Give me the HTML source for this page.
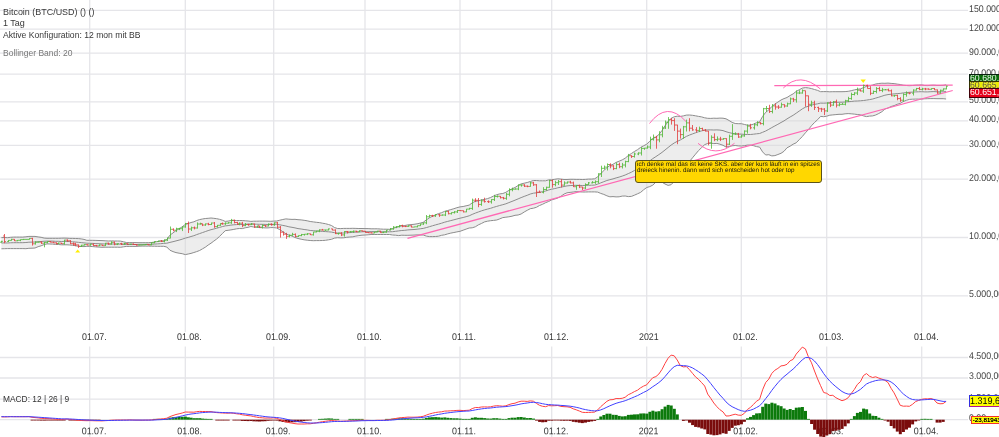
<!DOCTYPE html>
<html><head><meta charset="utf-8"><title>Chart</title>
<style>
html,body{margin:0;padding:0;background:#fff;}
#c{will-change:transform;position:relative;width:999px;height:437px;overflow:hidden;background:#fff;font-family:"Liberation Sans",sans-serif;}
#c svg{position:absolute;left:0;top:0;filter:blur(0.3px);}
.t{position:absolute;left:3px;font-size:9px;line-height:11px;color:#383838;white-space:nowrap;}
.ax{position:absolute;left:968.9px;font-size:9.75px;line-height:12px;color:#444;white-space:nowrap;transform:scale(0.903,1) rotate(0.03deg);transform-origin:0 9.4px;}
.dt{position:absolute;font-size:9.75px;line-height:12px;color:#333;white-space:nowrap;transform:scale(0.91,1) rotate(0.03deg);transform-origin:0 9.4px;}
.bx{position:absolute;left:969px;width:40px;white-space:nowrap;box-sizing:border-box;font-size:9.2px;line-height:9.4px;padding-left:0.3px;overflow:hidden;}
.bx span{position:relative;display:inline-block;transform:scaleX(0.95) rotate(0.03deg);transform-origin:0 0;}
#note{position:absolute;left:635px;top:160px;width:187px;height:23px;box-sizing:border-box;background:#ffd700;border:1px solid #5c5418;border-radius:3px;font-size:6px;line-height:6.3px;color:#111;padding:1px 0 0 1px;white-space:nowrap;}
.nt{position:absolute;left:635.0px;padding:0 2px;font-size:6.32px;line-height:7px;color:#111;white-space:nowrap;transform:rotate(0.03deg);transform-origin:2px 5px;}
</style></head><body>
<div id="c">
<svg width="999" height="437" viewBox="0 0 999 437">
<line x1="0" y1="10.3" x2="968" y2="10.3" stroke="#e5e5e9" stroke-width="1.3"/>
<line x1="0" y1="29.2" x2="968" y2="29.2" stroke="#e5e5e9" stroke-width="1.3"/>
<line x1="0" y1="53.2" x2="968" y2="53.2" stroke="#e5e5e9" stroke-width="1.3"/>
<line x1="0" y1="74.1" x2="968" y2="74.1" stroke="#e5e5e9" stroke-width="1.3"/>
<line x1="0" y1="101.9" x2="968" y2="101.9" stroke="#e5e5e9" stroke-width="1.3"/>
<line x1="0" y1="120.9" x2="968" y2="120.9" stroke="#e5e5e9" stroke-width="1.3"/>
<line x1="0" y1="145.3" x2="968" y2="145.3" stroke="#e5e5e9" stroke-width="1.3"/>
<line x1="0" y1="179.2" x2="968" y2="179.2" stroke="#e5e5e9" stroke-width="1.3"/>
<line x1="0" y1="237.5" x2="968" y2="237.5" stroke="#e5e5e9" stroke-width="1.3"/>
<line x1="0" y1="295.8" x2="968" y2="295.8" stroke="#e5e5e9" stroke-width="1.3"/>
<line x1="89.7" y1="0" x2="89.7" y2="332" stroke="#e5e5e9" stroke-width="1.3"/>
<line x1="89.7" y1="346.4" x2="89.7" y2="437" stroke="#e5e5e9" stroke-width="1.3"/>
<line x1="185.3" y1="0" x2="185.3" y2="332" stroke="#e5e5e9" stroke-width="1.3"/>
<line x1="185.3" y1="346.4" x2="185.3" y2="437" stroke="#e5e5e9" stroke-width="1.3"/>
<line x1="273.7" y1="0" x2="273.7" y2="332" stroke="#e5e5e9" stroke-width="1.3"/>
<line x1="273.7" y1="346.4" x2="273.7" y2="437" stroke="#e5e5e9" stroke-width="1.3"/>
<line x1="365.0" y1="0" x2="365.0" y2="332" stroke="#e5e5e9" stroke-width="1.3"/>
<line x1="365.0" y1="346.4" x2="365.0" y2="437" stroke="#e5e5e9" stroke-width="1.3"/>
<line x1="460.0" y1="0" x2="460.0" y2="332" stroke="#e5e5e9" stroke-width="1.3"/>
<line x1="460.0" y1="346.4" x2="460.0" y2="437" stroke="#e5e5e9" stroke-width="1.3"/>
<line x1="551.7" y1="0" x2="551.7" y2="332" stroke="#e5e5e9" stroke-width="1.3"/>
<line x1="551.7" y1="346.4" x2="551.7" y2="437" stroke="#e5e5e9" stroke-width="1.3"/>
<line x1="646.7" y1="0" x2="646.7" y2="332" stroke="#e5e5e9" stroke-width="1.3"/>
<line x1="646.7" y1="346.4" x2="646.7" y2="437" stroke="#e5e5e9" stroke-width="1.3"/>
<line x1="741.3" y1="0" x2="741.3" y2="332" stroke="#e5e5e9" stroke-width="1.3"/>
<line x1="741.3" y1="346.4" x2="741.3" y2="437" stroke="#e5e5e9" stroke-width="1.3"/>
<line x1="826.7" y1="0" x2="826.7" y2="332" stroke="#e5e5e9" stroke-width="1.3"/>
<line x1="826.7" y1="346.4" x2="826.7" y2="437" stroke="#e5e5e9" stroke-width="1.3"/>
<line x1="921.7" y1="0" x2="921.7" y2="332" stroke="#e5e5e9" stroke-width="1.3"/>
<line x1="921.7" y1="346.4" x2="921.7" y2="437" stroke="#e5e5e9" stroke-width="1.3"/>
<line x1="0" y1="357.5" x2="968" y2="357.5" stroke="#e5e5e9" stroke-width="1.3"/>
<line x1="0" y1="378" x2="968" y2="378" stroke="#e5e5e9" stroke-width="1.3"/>
<line x1="0" y1="399.1" x2="968" y2="399.1" stroke="#e5e5e9" stroke-width="1.3"/>
<line x1="0" y1="419.7" x2="968" y2="419.7" stroke="#e5e5e9" stroke-width="1.3"/>
<polygon points="1.4,237.6 4.5,237.5 7.5,237.7 10.6,237.3 13.6,237.1 16.7,237.1 19.7,237.1 22.8,237.1 25.9,236.8 28.9,236.4 32.0,236.4 35.0,236.4 38.1,236.9 41.1,237.3 44.2,238.1 47.0,238.3 49.9,238.3 52.7,238.3 55.6,238.3 58.4,238.3 61.3,238.2 64.1,238.1 67.0,238.2 69.8,238.4 72.6,238.4 75.5,238.5 78.3,238.6 81.2,238.9 84.0,239.4 86.9,240.3 89.7,240.3 92.8,240.3 95.9,240.4 99.0,240.5 102.0,240.6 105.1,240.8 108.2,241.0 111.3,240.9 114.4,241.0 117.5,241.0 120.5,241.1 123.6,241.8 126.7,242.6 129.8,242.6 132.9,242.6 136.0,242.6 139.0,242.7 142.1,242.7 145.2,242.7 148.3,242.7 151.4,242.5 154.5,242.1 157.5,241.5 160.6,241.2 163.7,240.6 166.8,239.5 169.9,235.2 173.0,232.9 176.0,230.6 179.1,228.8 182.2,226.8 185.3,224.4 188.2,223.5 191.0,222.5 193.9,221.8 196.7,220.5 199.6,219.6 202.4,219.0 205.3,218.5 208.1,218.3 211.0,218.0 213.8,218.3 216.7,218.7 219.5,219.3 222.4,220.2 225.2,221.4 228.1,221.1 230.9,220.5 233.8,220.4 236.6,220.5 239.5,220.5 242.3,220.5 245.2,220.8 248.0,221.0 250.9,221.4 253.7,221.2 256.6,221.2 259.4,221.1 262.3,221.1 265.1,221.1 268.0,221.2 270.8,221.3 273.7,221.1 276.7,221.0 279.8,220.2 282.8,219.5 285.9,218.9 288.9,219.2 292.0,219.4 295.0,219.3 298.0,219.7 301.1,219.9 304.1,220.3 307.2,220.8 310.2,221.5 313.3,221.9 316.3,222.3 319.4,222.6 322.4,223.2 325.4,223.7 328.5,224.5 331.5,225.5 334.6,227.6 337.6,228.5 340.7,228.6 343.7,228.4 346.7,228.4 349.8,228.4 352.8,228.3 355.9,228.4 358.9,228.5 362.0,228.5 365.0,228.6 368.1,228.6 371.1,228.8 374.2,228.8 377.3,228.8 380.3,229.0 383.4,229.2 386.5,229.2 389.5,229.3 392.6,228.5 395.6,227.6 398.7,226.6 401.8,226.0 404.8,225.5 407.9,224.9 411.0,224.6 414.0,224.3 417.1,223.8 420.2,223.1 423.2,222.3 426.3,219.9 429.4,217.8 432.4,216.3 435.5,214.8 438.5,213.6 441.6,212.7 444.7,211.3 447.7,210.5 450.8,209.6 453.9,208.7 456.9,207.7 460.0,206.9 463.1,206.5 466.1,205.8 469.2,205.1 472.2,202.9 475.3,201.3 478.3,200.9 481.4,199.9 484.5,199.4 487.5,198.6 490.6,197.5 493.6,196.0 496.7,194.7 499.7,193.9 502.8,193.5 505.9,192.3 508.9,190.4 512.0,188.8 515.0,187.5 518.1,185.5 521.1,183.9 524.2,183.2 527.2,182.5 530.3,181.5 533.4,180.5 536.4,180.5 539.5,180.8 542.5,180.8 545.6,180.8 548.6,179.9 551.7,179.8 554.8,179.3 557.8,178.8 560.9,179.1 564.0,179.5 567.0,179.5 570.1,179.3 573.2,179.3 576.2,179.4 579.3,179.4 582.3,179.5 585.4,179.4 588.5,179.1 591.5,179.1 594.6,178.8 597.7,176.9 600.7,173.6 603.8,170.7 606.9,167.6 609.9,165.5 613.0,164.3 616.1,162.4 619.1,161.2 622.2,159.9 625.2,158.2 628.3,155.5 631.4,153.5 634.4,151.5 637.5,149.7 640.6,147.4 643.6,145.8 646.7,144.2 649.8,141.2 652.8,138.5 655.9,137.1 658.9,134.5 662.0,130.5 665.0,125.8 668.1,121.5 671.1,118.3 674.2,116.8 677.2,116.2 680.3,116.4 683.3,115.9 686.4,115.1 689.4,115.0 692.5,115.3 695.5,115.8 698.6,116.4 701.6,116.9 704.7,117.8 707.7,118.3 710.8,118.4 713.8,118.2 716.9,118.3 719.9,118.1 723.0,118.2 726.0,118.8 729.1,120.5 732.1,122.4 735.2,123.5 738.2,123.7 741.3,123.7 744.3,124.4 747.4,125.2 750.4,125.1 753.5,124.1 756.5,122.7 759.6,121.9 762.6,116.4 765.7,112.3 768.8,109.9 771.8,106.5 774.9,104.0 777.9,102.1 781.0,100.0 784.0,98.6 787.0,97.5 790.1,95.5 793.1,93.9 796.2,91.4 799.2,89.8 802.3,88.1 805.4,87.6 808.4,87.9 811.5,88.6 814.5,89.5 817.6,90.4 820.6,91.7 823.7,91.6 826.7,91.6 829.8,91.8 832.8,91.7 835.9,91.7 839.0,91.7 842.0,91.7 845.1,91.6 848.2,91.3 851.2,90.7 854.3,89.9 857.3,89.3 860.4,88.9 863.5,87.6 866.5,86.4 869.6,85.8 872.7,85.0 875.7,84.0 878.8,83.5 881.9,83.2 884.9,83.3 888.0,83.1 891.1,83.4 894.1,83.6 897.2,84.1 900.2,84.5 903.3,85.2 906.4,85.5 909.4,85.7 912.5,85.5 915.6,85.2 918.6,85.1 921.7,84.9 924.8,85.5 927.8,85.6 930.9,85.3 933.9,85.2 937.0,85.5 940.0,85.5 943.1,85.4 946.1,84.8 946.1,99.0 943.1,98.7 940.0,98.7 937.0,98.7 933.9,98.6 930.9,98.6 927.8,98.7 924.8,98.8 921.7,99.1 918.6,99.1 915.6,99.1 912.5,99.2 909.4,99.4 906.4,100.3 903.3,101.5 900.2,103.4 897.2,104.3 894.1,105.6 891.1,106.5 888.0,108.0 884.9,109.1 881.9,111.7 878.8,113.5 875.7,115.0 872.7,115.9 869.6,116.1 866.5,116.6 863.5,115.9 860.4,114.8 857.3,114.5 854.3,114.1 851.2,113.8 848.2,113.6 845.1,113.8 842.0,114.3 839.0,114.3 835.9,114.6 832.8,114.9 829.8,115.2 826.7,116.2 823.7,116.7 820.6,116.4 817.6,119.7 814.5,122.5 811.5,125.7 808.4,129.6 805.4,132.8 802.3,136.5 799.2,139.7 796.2,142.8 793.1,144.2 790.1,146.2 787.0,147.8 784.0,151.3 781.0,153.3 777.9,154.5 774.9,155.6 771.8,155.9 768.8,154.7 765.7,155.0 762.6,151.9 759.6,147.1 756.5,146.6 753.5,145.7 750.4,145.1 747.4,145.1 744.3,145.7 741.3,146.0 738.2,145.9 735.2,145.5 732.1,145.8 729.1,146.6 726.0,147.0 723.0,145.3 719.9,144.2 716.9,143.4 713.8,143.6 710.8,143.1 707.7,143.5 704.7,144.6 701.6,147.6 698.6,150.5 695.5,154.2 692.5,157.8 689.4,161.6 686.4,164.9 683.3,168.6 680.3,173.0 677.2,177.6 674.2,181.4 671.1,184.7 668.1,185.4 665.0,184.0 662.0,182.2 658.9,181.1 655.9,182.1 652.8,185.1 649.8,186.6 646.7,187.5 643.6,189.8 640.6,192.4 637.5,193.8 634.4,195.2 631.4,196.4 628.3,196.6 625.2,196.0 622.2,196.1 619.1,196.8 616.1,196.9 613.0,196.6 609.9,196.8 606.9,195.8 603.8,194.4 600.7,193.4 597.7,192.1 594.6,191.9 591.5,191.9 588.5,191.9 585.4,192.0 582.3,192.0 579.3,191.8 576.2,191.6 573.2,192.0 570.1,192.4 567.0,192.8 564.0,194.1 560.9,196.3 557.8,198.0 554.8,199.0 551.7,199.9 548.6,201.5 545.6,202.7 542.5,204.3 539.5,205.5 536.4,207.3 533.4,208.2 530.3,208.7 527.2,210.3 524.2,212.0 521.1,214.0 518.1,215.0 515.0,215.3 512.0,216.2 508.9,216.8 505.9,217.2 502.8,217.6 499.7,218.9 496.7,220.0 493.6,220.4 490.6,220.7 487.5,221.2 484.5,221.9 481.4,223.5 478.3,224.9 475.3,226.8 472.2,227.8 469.2,228.0 466.1,229.1 463.1,230.2 460.0,231.3 456.9,231.9 453.9,232.5 450.8,233.1 447.7,233.9 444.7,234.8 441.6,235.3 438.5,236.2 435.5,236.5 432.4,236.6 429.4,236.6 426.3,236.1 423.2,235.0 420.2,235.0 417.1,234.9 414.0,235.1 411.0,235.2 407.9,235.3 404.8,235.3 401.8,235.2 398.7,235.6 395.6,235.2 392.6,235.0 389.5,234.5 386.5,234.5 383.4,234.5 380.3,234.5 377.3,234.5 374.2,234.5 371.1,234.5 368.1,234.8 365.0,235.0 362.0,235.2 358.9,235.6 355.9,236.1 352.8,236.8 349.8,237.0 346.7,237.3 343.7,237.8 340.7,237.9 337.6,237.7 334.6,238.1 331.5,239.3 328.5,239.8 325.4,240.3 322.4,240.5 319.4,240.6 316.3,240.6 313.3,240.7 310.2,240.5 307.2,240.2 304.1,239.8 301.1,239.2 298.0,238.5 295.0,237.5 292.0,236.1 288.9,235.1 285.9,233.8 282.8,231.7 279.8,229.7 276.7,228.0 273.7,227.6 270.8,227.6 268.0,227.9 265.1,227.9 262.3,227.7 259.4,227.6 256.6,227.2 253.7,227.0 250.9,226.5 248.0,227.3 245.2,227.8 242.3,228.6 239.5,228.5 236.6,228.8 233.8,229.4 230.9,229.9 228.1,230.3 225.2,230.7 222.4,233.6 219.5,236.4 216.7,239.0 213.8,241.1 211.0,243.2 208.1,245.1 205.3,247.2 202.4,248.9 199.6,250.5 196.7,251.6 193.9,252.5 191.0,253.4 188.2,254.0 185.3,254.6 182.2,253.7 179.1,253.2 176.0,252.6 173.0,251.6 169.9,250.2 166.8,247.0 163.7,246.3 160.6,246.3 157.5,246.3 154.5,246.2 151.4,246.2 148.3,246.1 145.2,246.1 142.1,246.1 139.0,246.2 136.0,246.4 132.9,246.4 129.8,246.4 126.7,246.4 123.6,246.8 120.5,247.3 117.5,247.2 114.4,247.2 111.3,247.2 108.2,247.2 105.1,247.2 102.0,247.3 99.0,247.1 95.9,246.9 92.8,246.6 89.7,246.4 86.9,246.3 84.0,246.6 81.2,246.5 78.3,246.3 75.5,245.7 72.6,245.3 69.8,245.0 67.0,244.8 64.1,244.8 61.3,244.8 58.4,244.5 55.6,244.4 52.7,244.1 49.9,244.0 47.0,243.9 44.2,244.5 41.1,245.8 38.1,246.7 35.0,248.0 32.0,248.2 28.9,248.3 25.9,248.7 22.8,248.6 19.7,248.6 16.7,248.6 13.6,248.6 10.6,248.6 7.5,248.6 4.5,248.7 1.4,248.8" fill="#d6d6d6" fill-opacity="0.45" stroke="none"/>
<polyline points="1.4,237.6 4.5,237.5 7.5,237.7 10.6,237.3 13.6,237.1 16.7,237.1 19.7,237.1 22.8,237.1 25.9,236.8 28.9,236.4 32.0,236.4 35.0,236.4 38.1,236.9 41.1,237.3 44.2,238.1 47.0,238.3 49.9,238.3 52.7,238.3 55.6,238.3 58.4,238.3 61.3,238.2 64.1,238.1 67.0,238.2 69.8,238.4 72.6,238.4 75.5,238.5 78.3,238.6 81.2,238.9 84.0,239.4 86.9,240.3 89.7,240.3 92.8,240.3 95.9,240.4 99.0,240.5 102.0,240.6 105.1,240.8 108.2,241.0 111.3,240.9 114.4,241.0 117.5,241.0 120.5,241.1 123.6,241.8 126.7,242.6 129.8,242.6 132.9,242.6 136.0,242.6 139.0,242.7 142.1,242.7 145.2,242.7 148.3,242.7 151.4,242.5 154.5,242.1 157.5,241.5 160.6,241.2 163.7,240.6 166.8,239.5 169.9,235.2 173.0,232.9 176.0,230.6 179.1,228.8 182.2,226.8 185.3,224.4 188.2,223.5 191.0,222.5 193.9,221.8 196.7,220.5 199.6,219.6 202.4,219.0 205.3,218.5 208.1,218.3 211.0,218.0 213.8,218.3 216.7,218.7 219.5,219.3 222.4,220.2 225.2,221.4 228.1,221.1 230.9,220.5 233.8,220.4 236.6,220.5 239.5,220.5 242.3,220.5 245.2,220.8 248.0,221.0 250.9,221.4 253.7,221.2 256.6,221.2 259.4,221.1 262.3,221.1 265.1,221.1 268.0,221.2 270.8,221.3 273.7,221.1 276.7,221.0 279.8,220.2 282.8,219.5 285.9,218.9 288.9,219.2 292.0,219.4 295.0,219.3 298.0,219.7 301.1,219.9 304.1,220.3 307.2,220.8 310.2,221.5 313.3,221.9 316.3,222.3 319.4,222.6 322.4,223.2 325.4,223.7 328.5,224.5 331.5,225.5 334.6,227.6 337.6,228.5 340.7,228.6 343.7,228.4 346.7,228.4 349.8,228.4 352.8,228.3 355.9,228.4 358.9,228.5 362.0,228.5 365.0,228.6 368.1,228.6 371.1,228.8 374.2,228.8 377.3,228.8 380.3,229.0 383.4,229.2 386.5,229.2 389.5,229.3 392.6,228.5 395.6,227.6 398.7,226.6 401.8,226.0 404.8,225.5 407.9,224.9 411.0,224.6 414.0,224.3 417.1,223.8 420.2,223.1 423.2,222.3 426.3,219.9 429.4,217.8 432.4,216.3 435.5,214.8 438.5,213.6 441.6,212.7 444.7,211.3 447.7,210.5 450.8,209.6 453.9,208.7 456.9,207.7 460.0,206.9 463.1,206.5 466.1,205.8 469.2,205.1 472.2,202.9 475.3,201.3 478.3,200.9 481.4,199.9 484.5,199.4 487.5,198.6 490.6,197.5 493.6,196.0 496.7,194.7 499.7,193.9 502.8,193.5 505.9,192.3 508.9,190.4 512.0,188.8 515.0,187.5 518.1,185.5 521.1,183.9 524.2,183.2 527.2,182.5 530.3,181.5 533.4,180.5 536.4,180.5 539.5,180.8 542.5,180.8 545.6,180.8 548.6,179.9 551.7,179.8 554.8,179.3 557.8,178.8 560.9,179.1 564.0,179.5 567.0,179.5 570.1,179.3 573.2,179.3 576.2,179.4 579.3,179.4 582.3,179.5 585.4,179.4 588.5,179.1 591.5,179.1 594.6,178.8 597.7,176.9 600.7,173.6 603.8,170.7 606.9,167.6 609.9,165.5 613.0,164.3 616.1,162.4 619.1,161.2 622.2,159.9 625.2,158.2 628.3,155.5 631.4,153.5 634.4,151.5 637.5,149.7 640.6,147.4 643.6,145.8 646.7,144.2 649.8,141.2 652.8,138.5 655.9,137.1 658.9,134.5 662.0,130.5 665.0,125.8 668.1,121.5 671.1,118.3 674.2,116.8 677.2,116.2 680.3,116.4 683.3,115.9 686.4,115.1 689.4,115.0 692.5,115.3 695.5,115.8 698.6,116.4 701.6,116.9 704.7,117.8 707.7,118.3 710.8,118.4 713.8,118.2 716.9,118.3 719.9,118.1 723.0,118.2 726.0,118.8 729.1,120.5 732.1,122.4 735.2,123.5 738.2,123.7 741.3,123.7 744.3,124.4 747.4,125.2 750.4,125.1 753.5,124.1 756.5,122.7 759.6,121.9 762.6,116.4 765.7,112.3 768.8,109.9 771.8,106.5 774.9,104.0 777.9,102.1 781.0,100.0 784.0,98.6 787.0,97.5 790.1,95.5 793.1,93.9 796.2,91.4 799.2,89.8 802.3,88.1 805.4,87.6 808.4,87.9 811.5,88.6 814.5,89.5 817.6,90.4 820.6,91.7 823.7,91.6 826.7,91.6 829.8,91.8 832.8,91.7 835.9,91.7 839.0,91.7 842.0,91.7 845.1,91.6 848.2,91.3 851.2,90.7 854.3,89.9 857.3,89.3 860.4,88.9 863.5,87.6 866.5,86.4 869.6,85.8 872.7,85.0 875.7,84.0 878.8,83.5 881.9,83.2 884.9,83.3 888.0,83.1 891.1,83.4 894.1,83.6 897.2,84.1 900.2,84.5 903.3,85.2 906.4,85.5 909.4,85.7 912.5,85.5 915.6,85.2 918.6,85.1 921.7,84.9 924.8,85.5 927.8,85.6 930.9,85.3 933.9,85.2 937.0,85.5 940.0,85.5 943.1,85.4 946.1,84.8" fill="none" stroke="#8c8c8c" stroke-width="1"/>
<polyline points="1.4,248.8 4.5,248.7 7.5,248.6 10.6,248.6 13.6,248.6 16.7,248.6 19.7,248.6 22.8,248.6 25.9,248.7 28.9,248.3 32.0,248.2 35.0,248.0 38.1,246.7 41.1,245.8 44.2,244.5 47.0,243.9 49.9,244.0 52.7,244.1 55.6,244.4 58.4,244.5 61.3,244.8 64.1,244.8 67.0,244.8 69.8,245.0 72.6,245.3 75.5,245.7 78.3,246.3 81.2,246.5 84.0,246.6 86.9,246.3 89.7,246.4 92.8,246.6 95.9,246.9 99.0,247.1 102.0,247.3 105.1,247.2 108.2,247.2 111.3,247.2 114.4,247.2 117.5,247.2 120.5,247.3 123.6,246.8 126.7,246.4 129.8,246.4 132.9,246.4 136.0,246.4 139.0,246.2 142.1,246.1 145.2,246.1 148.3,246.1 151.4,246.2 154.5,246.2 157.5,246.3 160.6,246.3 163.7,246.3 166.8,247.0 169.9,250.2 173.0,251.6 176.0,252.6 179.1,253.2 182.2,253.7 185.3,254.6 188.2,254.0 191.0,253.4 193.9,252.5 196.7,251.6 199.6,250.5 202.4,248.9 205.3,247.2 208.1,245.1 211.0,243.2 213.8,241.1 216.7,239.0 219.5,236.4 222.4,233.6 225.2,230.7 228.1,230.3 230.9,229.9 233.8,229.4 236.6,228.8 239.5,228.5 242.3,228.6 245.2,227.8 248.0,227.3 250.9,226.5 253.7,227.0 256.6,227.2 259.4,227.6 262.3,227.7 265.1,227.9 268.0,227.9 270.8,227.6 273.7,227.6 276.7,228.0 279.8,229.7 282.8,231.7 285.9,233.8 288.9,235.1 292.0,236.1 295.0,237.5 298.0,238.5 301.1,239.2 304.1,239.8 307.2,240.2 310.2,240.5 313.3,240.7 316.3,240.6 319.4,240.6 322.4,240.5 325.4,240.3 328.5,239.8 331.5,239.3 334.6,238.1 337.6,237.7 340.7,237.9 343.7,237.8 346.7,237.3 349.8,237.0 352.8,236.8 355.9,236.1 358.9,235.6 362.0,235.2 365.0,235.0 368.1,234.8 371.1,234.5 374.2,234.5 377.3,234.5 380.3,234.5 383.4,234.5 386.5,234.5 389.5,234.5 392.6,235.0 395.6,235.2 398.7,235.6 401.8,235.2 404.8,235.3 407.9,235.3 411.0,235.2 414.0,235.1 417.1,234.9 420.2,235.0 423.2,235.0 426.3,236.1 429.4,236.6 432.4,236.6 435.5,236.5 438.5,236.2 441.6,235.3 444.7,234.8 447.7,233.9 450.8,233.1 453.9,232.5 456.9,231.9 460.0,231.3 463.1,230.2 466.1,229.1 469.2,228.0 472.2,227.8 475.3,226.8 478.3,224.9 481.4,223.5 484.5,221.9 487.5,221.2 490.6,220.7 493.6,220.4 496.7,220.0 499.7,218.9 502.8,217.6 505.9,217.2 508.9,216.8 512.0,216.2 515.0,215.3 518.1,215.0 521.1,214.0 524.2,212.0 527.2,210.3 530.3,208.7 533.4,208.2 536.4,207.3 539.5,205.5 542.5,204.3 545.6,202.7 548.6,201.5 551.7,199.9 554.8,199.0 557.8,198.0 560.9,196.3 564.0,194.1 567.0,192.8 570.1,192.4 573.2,192.0 576.2,191.6 579.3,191.8 582.3,192.0 585.4,192.0 588.5,191.9 591.5,191.9 594.6,191.9 597.7,192.1 600.7,193.4 603.8,194.4 606.9,195.8 609.9,196.8 613.0,196.6 616.1,196.9 619.1,196.8 622.2,196.1 625.2,196.0 628.3,196.6 631.4,196.4 634.4,195.2 637.5,193.8 640.6,192.4 643.6,189.8 646.7,187.5 649.8,186.6 652.8,185.1 655.9,182.1 658.9,181.1 662.0,182.2 665.0,184.0 668.1,185.4 671.1,184.7 674.2,181.4 677.2,177.6 680.3,173.0 683.3,168.6 686.4,164.9 689.4,161.6 692.5,157.8 695.5,154.2 698.6,150.5 701.6,147.6 704.7,144.6 707.7,143.5 710.8,143.1 713.8,143.6 716.9,143.4 719.9,144.2 723.0,145.3 726.0,147.0 729.1,146.6 732.1,145.8 735.2,145.5 738.2,145.9 741.3,146.0 744.3,145.7 747.4,145.1 750.4,145.1 753.5,145.7 756.5,146.6 759.6,147.1 762.6,151.9 765.7,155.0 768.8,154.7 771.8,155.9 774.9,155.6 777.9,154.5 781.0,153.3 784.0,151.3 787.0,147.8 790.1,146.2 793.1,144.2 796.2,142.8 799.2,139.7 802.3,136.5 805.4,132.8 808.4,129.6 811.5,125.7 814.5,122.5 817.6,119.7 820.6,116.4 823.7,116.7 826.7,116.2 829.8,115.2 832.8,114.9 835.9,114.6 839.0,114.3 842.0,114.3 845.1,113.8 848.2,113.6 851.2,113.8 854.3,114.1 857.3,114.5 860.4,114.8 863.5,115.9 866.5,116.6 869.6,116.1 872.7,115.9 875.7,115.0 878.8,113.5 881.9,111.7 884.9,109.1 888.0,108.0 891.1,106.5 894.1,105.6 897.2,104.3 900.2,103.4 903.3,101.5 906.4,100.3 909.4,99.4 912.5,99.2 915.6,99.1 918.6,99.1 921.7,99.1 924.8,98.8 927.8,98.7 930.9,98.6 933.9,98.6 937.0,98.7 940.0,98.7 943.1,98.7 946.1,99.0" fill="none" stroke="#8c8c8c" stroke-width="1"/>
<polyline points="1.4,243.0 4.5,242.9 7.5,243.0 10.6,242.8 13.6,242.7 16.7,242.7 19.7,242.7 22.8,242.7 25.9,242.5 28.9,242.2 32.0,242.1 35.0,242.0 38.1,241.7 41.1,241.5 44.2,241.2 47.0,241.1 49.9,241.1 52.7,241.1 55.6,241.3 58.4,241.3 61.3,241.5 64.1,241.4 67.0,241.4 69.8,241.6 72.6,241.8 75.5,242.0 78.3,242.3 81.2,242.6 84.0,242.9 86.9,243.2 89.7,243.3 92.8,243.4 95.9,243.6 99.0,243.7 102.0,243.9 105.1,244.0 108.2,244.0 111.3,244.0 114.4,244.0 117.5,244.1 120.5,244.1 123.6,244.3 126.7,244.5 129.8,244.5 132.9,244.5 136.0,244.5 139.0,244.4 142.1,244.4 145.2,244.4 148.3,244.4 151.4,244.3 154.5,244.1 157.5,243.9 160.6,243.7 163.7,243.4 166.8,243.2 169.9,242.4 173.0,241.7 176.0,240.9 179.1,240.1 182.2,239.2 185.3,238.1 188.2,237.4 191.0,236.5 193.9,235.7 196.7,234.6 199.6,233.6 202.4,232.6 205.3,231.6 208.1,230.6 211.0,229.7 213.8,229.0 216.7,228.2 219.5,227.4 222.4,226.6 225.2,225.9 228.1,225.6 230.9,225.1 233.8,224.8 236.6,224.6 239.5,224.4 242.3,224.5 245.2,224.2 248.0,224.1 250.9,223.9 253.7,224.1 256.6,224.2 259.4,224.3 262.3,224.3 265.1,224.4 268.0,224.5 270.8,224.4 273.7,224.3 276.7,224.4 279.8,224.8 282.8,225.4 285.9,226.0 288.9,226.8 292.0,227.3 295.0,227.9 298.0,228.6 301.1,229.0 304.1,229.5 307.2,229.9 310.2,230.5 313.3,230.7 316.3,231.0 319.4,231.1 322.4,231.4 325.4,231.6 328.5,231.8 331.5,232.1 334.6,232.7 337.6,233.0 340.7,233.1 343.7,233.0 346.7,232.8 349.8,232.6 352.8,232.4 355.9,232.2 358.9,232.0 362.0,231.8 365.0,231.7 368.1,231.7 371.1,231.6 374.2,231.6 377.3,231.6 380.3,231.7 383.4,231.8 386.5,231.8 389.5,231.8 392.6,231.7 395.6,231.3 398.7,230.9 401.8,230.5 404.8,230.3 407.9,229.9 411.0,229.7 414.0,229.5 417.1,229.2 420.2,228.8 423.2,228.4 426.3,227.6 429.4,226.7 432.4,225.8 435.5,224.9 438.5,224.1 441.6,223.2 444.7,222.2 447.7,221.4 450.8,220.6 453.9,219.8 456.9,219.0 460.0,218.2 463.1,217.5 466.1,216.7 469.2,215.8 472.2,214.4 475.3,213.1 478.3,212.0 481.4,210.9 484.5,209.9 487.5,209.1 490.6,208.3 493.6,207.3 496.7,206.4 499.7,205.5 502.8,204.7 505.9,203.8 508.9,202.6 512.0,201.4 515.0,200.2 518.1,198.9 521.1,197.6 524.2,196.4 527.2,195.3 530.3,194.0 533.4,193.2 536.4,192.8 539.5,192.3 542.5,191.7 545.6,191.0 548.6,190.0 551.7,189.2 554.8,188.6 557.8,187.8 560.9,187.2 564.0,186.5 567.0,185.9 570.1,185.6 573.2,185.4 576.2,185.3 579.3,185.4 582.3,185.5 585.4,185.4 588.5,185.3 591.5,185.2 594.6,185.1 597.7,184.1 600.7,182.9 603.8,181.7 606.9,180.5 609.9,179.7 613.0,178.9 616.1,177.9 619.1,177.1 622.2,176.1 625.2,175.0 628.3,173.6 631.4,172.2 634.4,170.5 637.5,168.9 640.6,166.9 643.6,165.0 646.7,163.1 649.8,160.9 652.8,158.6 655.9,156.6 658.9,154.6 662.0,152.4 665.0,150.0 668.1,147.5 671.1,145.1 674.2,143.0 677.2,141.4 680.3,140.0 683.3,138.2 686.4,136.4 689.4,135.1 692.5,133.9 695.5,132.8 698.6,131.7 701.6,130.9 704.7,130.1 707.7,129.9 710.8,129.9 713.8,130.0 716.9,129.9 719.9,130.1 723.0,130.6 726.0,131.7 729.1,132.6 732.1,133.3 735.2,133.8 738.2,134.1 741.3,134.1 744.3,134.4 747.4,134.5 750.4,134.5 753.5,134.2 756.5,133.8 759.6,133.5 762.6,132.3 765.7,131.0 768.8,129.3 771.8,127.6 774.9,125.9 777.9,124.3 781.0,122.5 784.0,120.9 787.0,118.9 790.1,117.0 793.1,115.3 796.2,113.2 799.2,111.1 802.3,108.9 805.4,107.2 808.4,106.2 811.5,105.1 814.5,104.4 817.6,103.8 820.6,103.1 823.7,103.2 826.7,103.0 829.8,102.7 832.8,102.5 835.9,102.4 839.0,102.2 842.0,102.2 845.1,102.0 848.2,101.7 851.2,101.5 854.3,101.1 857.3,101.0 860.4,100.8 863.5,100.5 866.5,100.1 869.6,99.6 872.7,99.0 875.7,98.1 878.8,97.2 881.9,96.2 884.9,95.2 888.0,94.6 891.1,94.2 894.1,93.9 897.2,93.6 900.2,93.4 903.3,92.9 906.4,92.6 909.4,92.3 912.5,92.1 915.6,91.9 918.6,91.8 921.7,91.7 924.8,91.9 927.8,91.9 930.9,91.7 933.9,91.6 937.0,91.8 940.0,91.8 943.1,91.8 946.1,91.6" fill="none" stroke="#8c8c8c" stroke-width="1"/>
<line x1="407.5" y1="238.3" x2="952.7" y2="90.5" stroke="#ff69b4" stroke-width="1.25"/>
<line x1="774.3" y1="85.5" x2="952.7" y2="85" stroke="#ff69b4" stroke-width="1.25"/>
<path d="M649.5,123.5 Q667,100.5 686,121.5" fill="none" stroke="#ff69b4" stroke-width="1"/>
<path d="M698,143.3 Q715.5,158.5 734.5,143.3" fill="none" stroke="#ff69b4" stroke-width="1"/>
<path d="M783.3,88 Q800,71.3 820.4,89" fill="none" stroke="#ff69b4" stroke-width="1"/>
<path d="M1.5,240.8V242.7M0.0,242.2h1.5M1.5,241.3h1.5M8.5,240.0V242.0M7.0,241.6h1.5M8.5,240.4h1.5M11.5,238.8V240.6M10.0,240.4h1.5M11.5,239.3h1.5M17.5,240.1V241.2M16.0,240.8h1.5M17.5,240.3h1.5M20.5,239.5V241.2M19.0,240.3h1.5M20.5,239.6h1.5M23.5,238.9V239.8M22.0,239.6h1.5M23.5,239.4h1.5M26.5,239.2V239.6M25.0,239.4h1.5M26.5,239.4h1.5M29.5,238.2V239.5M28.0,239.4h1.5M29.5,238.4h1.5M35.5,241.3V244.6M34.0,243.8h1.5M35.5,242.2h1.5M38.5,241.7V242.5M37.0,242.2h1.5M38.5,242.1h1.5M44.5,241.8V247.3M43.0,243.2h1.5M44.5,242.4h1.5M47.5,241.4V243.3M46.0,242.4h1.5M47.5,241.5h1.5M58.5,242.5V244.1M57.0,243.6h1.5M58.5,243.1h1.5M64.5,239.8V244.6M63.0,243.7h1.5M64.5,240.1h1.5M81.5,244.8V247.0M80.0,246.3h1.5M81.5,245.2h1.5M84.5,244.2V245.4M83.0,245.2h1.5M84.5,244.6h1.5M90.5,243.9V245.7M89.0,245.0h1.5M90.5,244.2h1.5M99.5,244.4V246.1M98.0,245.8h1.5M99.5,245.0h1.5M105.5,242.9V246.0M104.0,245.7h1.5M105.5,243.2h1.5M111.5,241.3V244.6M110.0,244.0h1.5M111.5,242.3h1.5M117.5,243.4V245.1M116.0,244.1h1.5M117.5,243.7h1.5M124.5,242.9V244.7M123.0,244.1h1.5M124.5,243.6h1.5M130.5,243.8V244.5M129.0,244.1h1.5M130.5,244.0h1.5M139.5,244.7V245.3M138.0,245.1h1.5M139.5,245.0h1.5M142.5,244.7V245.1M141.0,245.0h1.5M142.5,244.8h1.5M145.5,244.1V245.1M144.0,244.8h1.5M145.5,244.4h1.5M151.5,242.2V245.3M150.0,244.9h1.5M151.5,242.8h1.5M154.5,241.3V243.3M153.0,242.8h1.5M154.5,241.6h1.5M158.5,240.7V241.8M157.0,241.6h1.5M158.5,240.9h1.5M164.5,239.4V242.4M163.0,241.4h1.5M164.5,240.1h1.5M167.5,237.5V241.0M166.0,240.1h1.5M167.5,238.1h1.5M170.5,226.5V238.3M169.0,238.1h1.5M170.5,229.3h1.5M176.5,227.7V232.1M175.0,230.2h1.5M176.5,228.7h1.5M179.5,227.8V230.1M178.0,228.7h1.5M179.5,228.7h1.5M182.5,226.3V231.1M181.0,228.7h1.5M182.5,226.9h1.5M185.5,222.9V227.7M184.0,226.9h1.5M185.5,223.6h1.5M191.5,226.6V231.0M190.0,229.0h1.5M191.5,227.8h1.5M197.5,222.4V228.5M196.0,228.0h1.5M197.5,224.0h1.5M200.5,222.7V224.6M199.0,224.0h1.5M200.5,223.8h1.5M205.5,223.5V225.8M204.0,225.0h1.5M205.5,223.9h1.5M211.5,222.6V225.0M210.0,224.5h1.5M211.5,223.0h1.5M217.5,224.9V227.5M216.0,226.6h1.5M217.5,225.3h1.5M220.5,223.2V225.9M219.0,225.3h1.5M220.5,223.7h1.5M225.5,222.3V224.9M224.0,223.8h1.5M225.5,223.2h1.5M228.5,222.1V223.6M227.0,223.2h1.5M228.5,222.8h1.5M231.5,218.9V223.8M230.0,222.8h1.5M231.5,220.3h1.5M239.5,222.4V225.3M238.0,224.0h1.5M239.5,223.2h1.5M245.5,223.0V226.2M244.0,225.6h1.5M245.5,224.5h1.5M251.5,223.1V225.0M250.0,224.7h1.5M251.5,224.0h1.5M257.5,225.7V227.4M256.0,227.0h1.5M257.5,226.0h1.5M262.5,224.3V228.5M261.0,227.2h1.5M262.5,225.5h1.5M268.5,223.4V226.3M267.0,226.0h1.5M268.5,224.2h1.5M274.5,222.3V225.8M273.0,224.7h1.5M274.5,222.8h1.5M289.5,234.5V237.4M288.0,236.3h1.5M289.5,235.3h1.5M292.5,232.8V235.7M291.0,235.3h1.5M292.5,234.4h1.5M298.5,235.4V237.0M297.0,236.4h1.5M298.5,235.6h1.5M301.5,233.9V236.2M300.0,235.6h1.5M301.5,234.6h1.5M304.5,234.0V235.6M303.0,234.6h1.5M304.5,234.2h1.5M307.5,233.1V235.1M306.0,234.2h1.5M307.5,233.8h1.5M313.5,231.8V235.6M312.0,234.8h1.5M313.5,232.0h1.5M316.5,230.7V232.3M315.0,232.0h1.5M316.5,231.1h1.5M319.5,229.3V232.2M318.0,231.1h1.5M319.5,229.9h1.5M325.5,229.7V230.9M324.0,230.0h1.5M325.5,230.0h1.5M328.5,228.5V230.4M327.0,230.0h1.5M328.5,228.9h1.5M338.5,232.9V234.7M337.0,233.6h1.5M338.5,233.2h1.5M344.5,231.1V236.6M343.0,234.9h1.5M344.5,231.5h1.5M350.5,231.0V232.4M349.0,231.9h1.5M350.5,231.6h1.5M353.5,230.5V232.7M352.0,231.6h1.5M353.5,231.2h1.5M359.5,230.4V232.0M358.0,231.8h1.5M359.5,230.7h1.5M374.5,231.7V233.2M373.0,233.0h1.5M374.5,232.1h1.5M377.5,230.8V232.2M376.0,232.1h1.5M377.5,231.1h1.5M383.5,231.5V233.1M382.0,232.6h1.5M383.5,232.1h1.5M386.5,229.8V232.7M385.0,232.1h1.5M386.5,230.1h1.5M390.5,228.0V230.4M389.0,230.1h1.5M390.5,229.0h1.5M393.5,226.1V229.7M392.0,229.0h1.5M393.5,227.2h1.5M396.5,226.1V228.2M395.0,227.2h1.5M396.5,226.7h1.5M399.5,224.9V227.5M398.0,226.7h1.5M399.5,225.5h1.5M408.5,225.3V226.8M407.0,226.4h1.5M408.5,225.8h1.5M414.5,226.7V227.2M413.0,227.1h1.5M414.5,226.8h1.5M417.5,225.6V227.3M416.0,226.8h1.5M417.5,225.7h1.5M420.5,223.6V226.0M419.0,225.7h1.5M420.5,224.0h1.5M423.5,222.5V224.9M422.0,224.0h1.5M423.5,222.8h1.5M426.5,215.0V224.2M425.0,222.8h1.5M426.5,216.8h1.5M429.5,214.7V217.6M428.0,216.8h1.5M429.5,215.6h1.5M435.5,214.2V216.9M434.0,215.9h1.5M435.5,214.7h1.5M442.5,214.4V215.6M441.0,215.2h1.5M442.5,215.0h1.5M445.5,211.0V216.1M444.0,215.0h1.5M445.5,211.4h1.5M451.5,212.4V214.5M450.0,213.7h1.5M451.5,212.6h1.5M454.5,211.1V213.5M453.0,212.6h1.5M454.5,211.9h1.5M457.5,209.9V213.0M456.0,211.9h1.5M457.5,210.5h1.5M466.5,208.9V212.2M465.0,211.9h1.5M466.5,209.1h1.5M469.5,207.8V209.6M468.0,209.1h1.5M469.5,208.4h1.5M472.5,198.6V209.9M471.0,208.4h1.5M472.5,200.2h1.5M481.5,199.3V205.8M480.0,204.4h1.5M481.5,200.8h1.5M491.5,199.2V203.6M490.0,201.8h1.5M491.5,199.6h1.5M494.5,194.8V201.0M493.0,199.6h1.5M494.5,196.5h1.5M497.5,195.4V197.5M496.0,196.5h1.5M497.5,196.3h1.5M506.5,192.9V199.8M505.0,198.3h1.5M506.5,194.3h1.5M509.5,188.3V196.3M508.0,194.3h1.5M509.5,189.7h1.5M512.5,187.6V191.3M511.0,189.7h1.5M512.5,189.2h1.5M515.5,188.3V189.5M514.0,189.2h1.5M515.5,189.0h1.5M518.5,184.4V190.2M517.0,189.0h1.5M518.5,185.0h1.5M521.5,184.5V186.6M520.0,185.0h1.5M521.5,185.0h1.5M530.5,181.9V186.7M529.0,186.4h1.5M530.5,182.9h1.5M543.5,187.2V193.4M542.0,192.3h1.5M543.5,189.5h1.5M546.5,186.7V190.5M545.0,189.5h1.5M546.5,187.3h1.5M549.5,179.9V187.7M548.0,187.3h1.5M549.5,180.6h1.5M555.5,180.8V186.3M554.0,184.6h1.5M555.5,182.7h1.5M558.5,180.0V185.0M557.0,182.7h1.5M558.5,181.7h1.5M564.5,181.3V185.7M563.0,185.1h1.5M564.5,183.0h1.5M567.5,181.5V183.6M566.0,183.0h1.5M567.5,182.0h1.5M576.5,185.2V189.8M575.0,186.7h1.5M576.5,185.6h1.5M585.5,183.3V189.1M584.0,188.0h1.5M585.5,184.5h1.5M588.5,182.0V184.9M587.0,184.5h1.5M588.5,182.9h1.5M592.5,181.1V183.4M591.0,182.9h1.5M592.5,182.4h1.5M595.5,180.4V183.8M594.0,182.4h1.5M595.5,181.7h1.5M598.5,173.3V183.3M597.0,181.7h1.5M598.5,173.8h1.5M601.5,165.7V177.0M600.0,173.8h1.5M601.5,168.3h1.5M604.5,165.5V169.5M603.0,168.3h1.5M604.5,167.1h1.5M607.5,163.4V170.5M606.0,167.1h1.5M607.5,164.5h1.5M616.5,162.5V169.2M615.0,168.6h1.5M616.5,164.6h1.5M622.5,162.9V168.5M621.0,166.7h1.5M622.5,165.0h1.5M625.5,160.7V167.4M624.0,165.0h1.5M625.5,161.6h1.5M628.5,153.9V162.2M627.0,161.6h1.5M628.5,155.7h1.5M634.5,152.5V157.6M633.0,156.5h1.5M634.5,154.0h1.5M638.5,152.3V155.2M637.0,154.0h1.5M638.5,153.0h1.5M641.5,147.2V155.5M640.0,153.0h1.5M641.5,148.4h1.5M644.5,147.9V149.8M643.0,148.4h1.5M644.5,148.1h1.5M647.5,145.4V148.6M646.0,148.1h1.5M647.5,147.0h1.5M650.5,136.7V149.2M649.0,147.0h1.5M650.5,139.3h1.5M653.5,134.5V140.6M652.0,139.3h1.5M653.5,137.3h1.5M659.5,131.2V142.3M658.0,139.9h1.5M659.5,134.8h1.5M662.5,125.8V137.3M661.0,134.8h1.5M662.5,128.0h1.5M665.5,120.5V128.9M664.0,128.0h1.5M665.5,122.2h1.5M668.5,117.1V128.8M667.0,122.2h1.5M668.5,119.7h1.5M683.5,125.9V138.8M682.0,134.6h1.5M683.5,126.8h1.5M686.5,119.6V131.5M685.0,126.8h1.5M686.5,122.9h1.5M699.5,126.6V132.1M698.0,130.4h1.5M699.5,128.5h1.5M711.5,135.3V148.7M710.0,143.0h1.5M711.5,137.3h1.5M717.5,136.4V141.2M716.0,139.6h1.5M717.5,139.1h1.5M723.5,138.0V139.7M722.0,139.2h1.5M723.5,138.6h1.5M729.5,134.6V145.1M728.0,144.2h1.5M729.5,136.3h1.5M732.5,124.1V139.9M731.0,136.3h1.5M732.5,134.0h1.5M735.5,132.3V134.9M734.0,134.0h1.5M735.5,134.0h1.5M741.5,134.7V137.7M740.0,137.0h1.5M741.5,135.9h1.5M744.5,130.4V136.7M743.0,135.9h1.5M744.5,131.1h1.5M747.5,124.4V133.6M746.0,131.1h1.5M747.5,126.1h1.5M754.5,123.3V129.6M753.0,127.8h1.5M754.5,124.8h1.5M757.5,121.2V126.2M756.0,124.8h1.5M757.5,122.7h1.5M763.5,107.9V125.4M762.0,123.6h1.5M763.5,108.7h1.5M766.5,106.0V111.7M765.0,108.7h1.5M766.5,108.5h1.5M772.5,104.0V113.4M771.0,111.5h1.5M772.5,105.9h1.5M781.5,102.6V107.7M780.0,107.2h1.5M781.5,104.7h1.5M787.5,102.6V106.8M786.0,106.0h1.5M787.5,103.8h1.5M790.5,97.5V104.2M789.0,103.8h1.5M790.5,98.9h1.5M796.5,90.4V102.6M795.0,99.8h1.5M796.5,93.0h1.5M799.5,90.3V94.1M798.0,93.0h1.5M799.5,93.0h1.5M802.5,89.4V93.6M801.0,93.0h1.5M802.5,90.7h1.5M811.5,100.7V106.9M810.0,104.3h1.5M811.5,102.9h1.5M827.5,102.3V112.0M826.0,110.9h1.5M827.5,103.1h1.5M833.5,101.0V105.8M832.0,105.1h1.5M833.5,101.7h1.5M839.5,102.8V106.3M838.0,105.1h1.5M839.5,104.4h1.5M842.5,103.0V104.7M841.0,104.4h1.5M842.5,104.3h1.5M845.5,99.8V105.4M844.0,104.3h1.5M845.5,100.7h1.5M848.5,96.8V102.1M847.0,100.7h1.5M848.5,98.6h1.5M851.5,92.7V99.8M850.0,98.6h1.5M851.5,94.5h1.5M854.5,92.2V95.4M853.0,94.5h1.5M854.5,93.0h1.5M857.5,87.6V95.1M856.0,93.0h1.5M857.5,90.2h1.5M863.5,84.6V92.9M862.0,91.0h1.5M863.5,85.4h1.5M873.5,90.5V93.9M872.0,93.3h1.5M873.5,91.5h1.5M876.5,87.1V93.3M875.0,91.5h1.5M876.5,88.6h1.5M882.5,87.9V92.2M881.0,90.4h1.5M882.5,89.8h1.5M885.5,89.0V90.2M884.0,89.8h1.5M885.5,89.8h1.5M894.5,94.9V96.8M893.0,95.8h1.5M894.5,95.4h1.5M903.5,93.3V101.8M902.0,100.2h1.5M903.5,94.4h1.5M906.5,91.4V96.7M905.0,94.4h1.5M906.5,93.1h1.5M913.5,89.3V95.5M912.0,93.2h1.5M913.5,90.1h1.5M916.5,87.9V90.5M915.0,90.1h1.5M916.5,88.5h1.5M922.5,87.8V90.4M921.0,89.4h1.5M922.5,88.9h1.5M931.5,88.3V89.7M930.0,89.3h1.5M931.5,88.5h1.5M940.5,89.6V93.6M939.0,93.0h1.5M940.5,90.3h1.5M943.5,88.4V90.6M942.0,90.3h1.5M943.5,88.9h1.5M946.5,85.6V89.4M945.0,88.9h1.5M946.5,86.2h1.5" stroke="#4fb734" stroke-width="0.9" stroke-opacity="0.88" fill="none"/>
<path d="M4.5,234.0V243.3M3.0,236.0h1.5M4.5,241.6h1.5M14.5,239.1V241.0M13.0,239.3h1.5M14.5,240.8h1.5M32.5,237.8V245.6M31.0,238.4h1.5M32.5,243.8h1.5M41.5,241.3V243.9M40.0,242.1h1.5M41.5,243.2h1.5M50.5,241.1V242.4M49.0,241.5h1.5M50.5,242.2h1.5M53.5,241.7V242.9M52.0,242.2h1.5M53.5,242.8h1.5M56.5,242.4V244.3M55.0,242.8h1.5M56.5,243.6h1.5M61.5,242.8V244.0M60.0,243.1h1.5M61.5,243.7h1.5M67.5,239.4V241.7M66.0,240.1h1.5M67.5,240.8h1.5M70.5,240.1V244.2M69.0,240.8h1.5M70.5,243.7h1.5M73.5,242.4V245.6M72.0,243.7h1.5M73.5,244.0h1.5M75.5,242.7V246.2M74.0,244.0h1.5M75.5,244.9h1.5M78.5,244.5V247.9M77.0,244.9h1.5M78.5,246.3h1.5M87.5,244.4V245.4M86.0,244.6h1.5M87.5,245.0h1.5M93.5,243.5V245.9M92.0,244.2h1.5M93.5,245.5h1.5M96.5,244.9V246.4M95.0,245.5h1.5M96.5,245.8h1.5M102.5,244.8V245.9M101.0,245.0h1.5M102.5,245.7h1.5M108.5,242.6V244.8M107.0,243.2h1.5M108.5,244.0h1.5M114.5,241.4V245.3M113.0,242.3h1.5M114.5,244.1h1.5M121.5,242.8V244.9M120.0,243.7h1.5M121.5,244.1h1.5M127.5,243.4V244.7M126.0,243.6h1.5M127.5,244.1h1.5M133.5,243.5V244.7M132.0,244.0h1.5M133.5,244.5h1.5M136.5,244.3V245.6M135.0,244.5h1.5M136.5,245.1h1.5M148.5,244.3V245.2M147.0,244.4h1.5M148.5,244.9h1.5M161.5,240.0V242.0M160.0,240.9h1.5M161.5,241.4h1.5M173.5,228.3V231.3M172.0,229.3h1.5M173.5,230.2h1.5M188.5,221.5V233.0M187.0,223.6h1.5M188.5,229.0h1.5M194.5,226.5V229.4M193.0,227.8h1.5M194.5,228.0h1.5M202.5,223.6V226.1M201.0,223.8h1.5M202.5,225.0h1.5M208.5,222.8V225.3M207.0,223.9h1.5M208.5,224.5h1.5M214.5,222.0V227.8M213.0,223.0h1.5M214.5,226.6h1.5M222.5,222.5V224.7M221.0,223.7h1.5M222.5,223.8h1.5M234.5,219.6V223.4M233.0,220.3h1.5M234.5,222.5h1.5M237.5,221.8V224.8M236.0,222.5h1.5M237.5,224.0h1.5M242.5,221.8V227.2M241.0,223.2h1.5M242.5,225.6h1.5M248.5,223.8V225.8M247.0,224.5h1.5M248.5,224.7h1.5M254.5,223.6V227.8M253.0,224.0h1.5M254.5,227.0h1.5M259.5,225.7V228.0M258.0,226.0h1.5M259.5,227.2h1.5M265.5,225.1V227.1M264.0,225.5h1.5M265.5,226.0h1.5M271.5,223.3V225.7M270.0,224.2h1.5M271.5,224.7h1.5M277.5,221.9V228.2M276.0,222.8h1.5M277.5,227.2h1.5M280.5,226.0V237.6M279.0,227.2h1.5M280.5,232.2h1.5M283.5,231.5V235.6M282.0,232.2h1.5M283.5,234.2h1.5M286.5,232.8V238.9M285.0,234.2h1.5M286.5,236.3h1.5M295.5,233.4V237.2M294.0,234.4h1.5M295.5,236.4h1.5M310.5,233.6V235.0M309.0,233.8h1.5M310.5,234.8h1.5M322.5,228.9V230.4M321.0,229.9h1.5M322.5,230.0h1.5M332.5,228.7V230.3M331.0,228.9h1.5M332.5,230.1h1.5M335.5,229.3V234.1M334.0,230.1h1.5M335.5,233.6h1.5M341.5,232.2V236.1M340.0,233.2h1.5M341.5,234.9h1.5M347.5,231.1V233.5M346.0,231.5h1.5M347.5,231.9h1.5M356.5,230.8V232.1M355.0,231.2h1.5M356.5,231.8h1.5M362.5,230.6V231.4M361.0,230.7h1.5M362.5,231.2h1.5M365.5,231.0V232.7M364.0,231.2h1.5M365.5,232.5h1.5M368.5,232.1V233.1M367.0,232.5h1.5M368.5,232.8h1.5M371.5,232.3V233.3M370.0,232.8h1.5M371.5,233.0h1.5M380.5,230.8V232.7M379.0,231.1h1.5M380.5,232.6h1.5M402.5,224.7V227.3M401.0,225.5h1.5M402.5,226.3h1.5M405.5,225.9V227.1M404.0,226.3h1.5M405.5,226.4h1.5M411.5,225.4V227.4M410.0,225.8h1.5M411.5,227.1h1.5M432.5,214.8V217.0M431.0,215.6h1.5M432.5,215.9h1.5M439.5,214.0V216.9M438.0,214.7h1.5M439.5,215.2h1.5M448.5,210.8V214.4M447.0,211.4h1.5M448.5,213.7h1.5M460.5,210.3V211.1M459.0,210.5h1.5M460.5,210.7h1.5M463.5,210.5V212.4M462.0,210.7h1.5M463.5,211.9h1.5M475.5,198.2V202.1M474.0,200.2h1.5M475.5,200.3h1.5M478.5,198.0V207.2M477.0,200.3h1.5M478.5,204.4h1.5M484.5,197.7V202.6M483.0,200.8h1.5M484.5,201.6h1.5M488.5,200.4V203.0M487.0,201.6h1.5M488.5,201.8h1.5M500.5,196.0V198.5M499.0,196.3h1.5M500.5,197.7h1.5M503.5,196.9V199.5M502.0,197.7h1.5M503.5,198.3h1.5M524.5,184.2V187.0M523.0,185.0h1.5M524.5,186.2h1.5M527.5,185.5V187.2M526.0,186.2h1.5M527.5,186.4h1.5M533.5,181.8V185.9M532.0,182.9h1.5M533.5,184.8h1.5M536.5,184.1V197.0M535.0,184.8h1.5M536.5,192.2h1.5M539.5,190.5V192.8M538.0,192.2h1.5M539.5,192.3h1.5M552.5,179.7V187.7M551.0,180.6h1.5M552.5,184.6h1.5M561.5,179.1V187.4M560.0,181.7h1.5M561.5,185.1h1.5M570.5,180.8V183.5M569.0,182.0h1.5M570.5,182.9h1.5M573.5,181.6V187.0M572.0,182.9h1.5M573.5,186.7h1.5M579.5,184.6V188.1M578.0,185.6h1.5M579.5,187.0h1.5M582.5,186.8V190.0M581.0,187.0h1.5M582.5,188.0h1.5M610.5,163.3V168.3M609.0,164.5h1.5M610.5,165.9h1.5M613.5,165.2V170.1M612.0,165.9h1.5M613.5,168.6h1.5M619.5,162.6V168.2M618.0,164.6h1.5M619.5,166.7h1.5M631.5,155.3V158.0M630.0,155.7h1.5M631.5,156.5h1.5M656.5,135.8V148.7M655.0,137.3h1.5M656.5,139.9h1.5M671.5,118.1V124.6M670.0,119.7h1.5M671.5,120.6h1.5M674.5,118.2V130.9M673.0,120.6h1.5M674.5,125.0h1.5M677.5,124.8V144.2M676.0,125.0h1.5M677.5,131.1h1.5M680.5,128.6V138.6M679.0,131.1h1.5M680.5,134.6h1.5M689.5,118.2V131.4M688.0,122.9h1.5M689.5,128.2h1.5M692.5,125.0V130.8M691.0,128.2h1.5M692.5,129.9h1.5M696.5,127.1V132.4M695.0,129.9h1.5M696.5,130.4h1.5M702.5,127.7V130.6M701.0,128.5h1.5M702.5,130.2h1.5M705.5,129.0V131.5M704.0,130.2h1.5M705.5,131.1h1.5M708.5,130.9V145.3M707.0,131.1h1.5M708.5,143.0h1.5M714.5,133.3V141.2M713.0,137.3h1.5M714.5,139.6h1.5M720.5,136.8V141.1M719.0,139.1h1.5M720.5,139.2h1.5M726.5,138.3V147.5M725.0,138.6h1.5M726.5,144.2h1.5M738.5,132.9V137.9M737.0,134.0h1.5M738.5,137.0h1.5M750.5,123.8V129.3M749.0,126.1h1.5M750.5,127.8h1.5M760.5,122.2V124.5M759.0,122.7h1.5M760.5,123.6h1.5M769.5,104.8V113.0M768.0,108.5h1.5M769.5,111.5h1.5M775.5,103.4V109.7M774.0,105.9h1.5M775.5,107.0h1.5M778.5,105.1V109.0M777.0,107.0h1.5M778.5,107.2h1.5M784.5,104.3V107.6M783.0,104.7h1.5M784.5,106.0h1.5M793.5,97.8V102.0M792.0,98.9h1.5M793.5,99.8h1.5M805.5,90.7V106.7M804.0,90.7h1.5M805.5,95.8h1.5M808.5,95.6V111.2M807.0,95.8h1.5M808.5,104.3h1.5M814.5,100.7V110.0M813.0,102.9h1.5M814.5,107.4h1.5M818.5,106.7V112.0M817.0,107.4h1.5M818.5,108.8h1.5M821.5,107.8V111.9M820.0,108.8h1.5M821.5,109.1h1.5M824.5,108.1V115.1M823.0,109.1h1.5M824.5,110.9h1.5M830.5,101.3V107.1M829.0,103.1h1.5M830.5,105.1h1.5M836.5,99.6V107.5M835.0,101.7h1.5M836.5,105.1h1.5M860.5,89.3V91.4M859.0,90.2h1.5M860.5,91.0h1.5M867.5,84.7V88.5M866.0,85.4h1.5M867.5,88.5h1.5M870.5,86.2V95.2M869.0,88.5h1.5M870.5,93.3h1.5M879.5,86.7V91.3M878.0,88.6h1.5M879.5,90.4h1.5M888.5,88.6V91.3M887.0,89.8h1.5M888.5,90.8h1.5M891.5,89.5V96.3M890.0,90.8h1.5M891.5,95.8h1.5M897.5,94.7V100.3M896.0,95.4h1.5M897.5,98.6h1.5M900.5,97.2V101.9M899.0,98.6h1.5M900.5,100.2h1.5M909.5,92.5V94.3M908.0,93.1h1.5M909.5,93.2h1.5M919.5,86.9V90.2M918.0,88.5h1.5M919.5,89.4h1.5M925.5,87.9V90.2M924.0,88.9h1.5M925.5,89.0h1.5M928.5,88.4V89.6M927.0,89.0h1.5M928.5,89.3h1.5M934.5,88.0V90.0M933.0,88.5h1.5M934.5,89.9h1.5M937.5,89.5V93.8M936.0,89.9h1.5M937.5,93.0h1.5" stroke="#e03a3a" stroke-width="0.9" stroke-opacity="0.88" fill="none"/>
<polygon points="860.5,79.5 865.9,79.5 863.2,83" fill="#ffee00"/>
<polygon points="75.2,252.6 80.2,252.6 77.7,249.6" fill="#ffee00"/>
<text x="0" y="0" font-size="9.75" fill="#333" font-family="Liberation Sans, sans-serif" transform="translate(81.7,434.3) scale(0.91,1) rotate(0.03)">01.07.</text>
<text x="0" y="0" font-size="9.75" fill="#333" font-family="Liberation Sans, sans-serif" transform="translate(177.3,434.3) scale(0.91,1) rotate(0.03)">01.08.</text>
<text x="0" y="0" font-size="9.75" fill="#333" font-family="Liberation Sans, sans-serif" transform="translate(265.7,434.3) scale(0.91,1) rotate(0.03)">01.09.</text>
<text x="0" y="0" font-size="9.75" fill="#333" font-family="Liberation Sans, sans-serif" transform="translate(357.0,434.3) scale(0.91,1) rotate(0.03)">01.10.</text>
<text x="0" y="0" font-size="9.75" fill="#333" font-family="Liberation Sans, sans-serif" transform="translate(452.0,434.3) scale(0.91,1) rotate(0.03)">01.11.</text>
<text x="0" y="0" font-size="9.75" fill="#333" font-family="Liberation Sans, sans-serif" transform="translate(543.7,434.3) scale(0.91,1) rotate(0.03)">01.12.</text>
<text x="0" y="0" font-size="9.75" fill="#333" font-family="Liberation Sans, sans-serif" transform="translate(638.7,434.3) scale(0.91,1) rotate(0.03)">2021</text>
<text x="0" y="0" font-size="9.75" fill="#333" font-family="Liberation Sans, sans-serif" transform="translate(733.3,434.3) scale(0.91,1) rotate(0.03)">01.02.</text>
<text x="0" y="0" font-size="9.75" fill="#333" font-family="Liberation Sans, sans-serif" transform="translate(818.7,434.3) scale(0.91,1) rotate(0.03)">01.03.</text>
<text x="0" y="0" font-size="9.75" fill="#333" font-family="Liberation Sans, sans-serif" transform="translate(913.7,434.3) scale(0.91,1) rotate(0.03)">01.04.</text>
<rect x="30.6" y="419.7" width="3.0" height="0.8" fill="#7a0c0c"/>
<rect x="33.6" y="419.7" width="3.0" height="0.8" fill="#7a0c0c"/>
<rect x="36.7" y="419.7" width="3.0" height="0.8" fill="#7a0c0c"/>
<rect x="39.7" y="419.7" width="3.0" height="0.9" fill="#7a0c0c"/>
<rect x="42.8" y="419.7" width="3.0" height="0.9" fill="#7a0c0c"/>
<rect x="45.6" y="419.7" width="3.0" height="0.8" fill="#7a0c0c"/>
<rect x="48.5" y="419.7" width="3.0" height="0.8" fill="#7a0c0c"/>
<rect x="51.3" y="419.7" width="3.0" height="0.8" fill="#7a0c0c"/>
<rect x="54.2" y="419.7" width="3.0" height="0.8" fill="#7a0c0c"/>
<rect x="57.0" y="419.7" width="3.0" height="0.8" fill="#7a0c0c"/>
<rect x="59.9" y="419.7" width="3.0" height="0.8" fill="#7a0c0c"/>
<rect x="62.7" y="419.7" width="3.0" height="0.8" fill="#7a0c0c"/>
<rect x="68.4" y="419.7" width="3.0" height="0.8" fill="#7a0c0c"/>
<rect x="71.2" y="419.7" width="3.0" height="0.8" fill="#7a0c0c"/>
<rect x="74.1" y="419.7" width="3.0" height="0.8" fill="#7a0c0c"/>
<rect x="76.9" y="419.7" width="3.0" height="0.8" fill="#7a0c0c"/>
<rect x="79.8" y="419.7" width="3.0" height="0.8" fill="#7a0c0c"/>
<rect x="82.6" y="419.7" width="3.0" height="0.8" fill="#7a0c0c"/>
<rect x="85.5" y="419.7" width="3.0" height="0.8" fill="#7a0c0c"/>
<rect x="88.3" y="419.7" width="3.0" height="0.8" fill="#7a0c0c"/>
<rect x="91.4" y="419.7" width="3.0" height="0.8" fill="#7a0c0c"/>
<rect x="94.5" y="419.7" width="3.0" height="0.8" fill="#7a0c0c"/>
<rect x="97.6" y="419.7" width="3.0" height="0.8" fill="#7a0c0c"/>
<rect x="153.1" y="418.9" width="3.0" height="0.8" fill="#0c7a0c"/>
<rect x="156.1" y="418.9" width="3.0" height="0.8" fill="#0c7a0c"/>
<rect x="159.2" y="418.9" width="3.0" height="0.8" fill="#0c7a0c"/>
<rect x="162.3" y="418.9" width="3.0" height="0.8" fill="#0c7a0c"/>
<rect x="165.4" y="418.7" width="3.0" height="1.0" fill="#0c7a0c"/>
<rect x="168.5" y="417.6" width="3.0" height="2.1" fill="#0c7a0c"/>
<rect x="171.6" y="417.2" width="3.0" height="2.5" fill="#0c7a0c"/>
<rect x="174.6" y="416.9" width="3.0" height="2.8" fill="#0c7a0c"/>
<rect x="177.7" y="416.9" width="3.0" height="2.8" fill="#0c7a0c"/>
<rect x="180.8" y="416.8" width="3.0" height="2.9" fill="#0c7a0c"/>
<rect x="183.9" y="416.6" width="3.0" height="3.1" fill="#0c7a0c"/>
<rect x="186.8" y="417.3" width="3.0" height="2.4" fill="#0c7a0c"/>
<rect x="189.6" y="417.7" width="3.0" height="2.0" fill="#0c7a0c"/>
<rect x="192.5" y="418.2" width="3.0" height="1.5" fill="#0c7a0c"/>
<rect x="195.3" y="418.2" width="3.0" height="1.5" fill="#0c7a0c"/>
<rect x="198.2" y="418.2" width="3.0" height="1.5" fill="#0c7a0c"/>
<rect x="201.0" y="418.6" width="3.0" height="1.1" fill="#0c7a0c"/>
<rect x="203.9" y="418.8" width="3.0" height="0.9" fill="#0c7a0c"/>
<rect x="206.7" y="418.9" width="3.0" height="0.8" fill="#0c7a0c"/>
<rect x="209.6" y="418.9" width="3.0" height="0.8" fill="#0c7a0c"/>
<rect x="215.3" y="419.7" width="3.0" height="0.8" fill="#7a0c0c"/>
<rect x="218.1" y="419.7" width="3.0" height="0.8" fill="#7a0c0c"/>
<rect x="221.0" y="419.7" width="3.0" height="0.8" fill="#7a0c0c"/>
<rect x="223.8" y="419.7" width="3.0" height="0.8" fill="#7a0c0c"/>
<rect x="226.7" y="419.7" width="3.0" height="0.8" fill="#7a0c0c"/>
<rect x="232.4" y="419.7" width="3.0" height="0.8" fill="#7a0c0c"/>
<rect x="235.2" y="419.7" width="3.0" height="0.8" fill="#7a0c0c"/>
<rect x="238.1" y="419.7" width="3.0" height="0.8" fill="#7a0c0c"/>
<rect x="240.9" y="419.7" width="3.0" height="1.2" fill="#7a0c0c"/>
<rect x="243.8" y="419.7" width="3.0" height="1.3" fill="#7a0c0c"/>
<rect x="246.6" y="419.7" width="3.0" height="1.4" fill="#7a0c0c"/>
<rect x="249.5" y="419.7" width="3.0" height="1.3" fill="#7a0c0c"/>
<rect x="252.3" y="419.7" width="3.0" height="1.6" fill="#7a0c0c"/>
<rect x="255.2" y="419.7" width="3.0" height="1.7" fill="#7a0c0c"/>
<rect x="258.0" y="419.7" width="3.0" height="1.8" fill="#7a0c0c"/>
<rect x="260.9" y="419.7" width="3.0" height="1.6" fill="#7a0c0c"/>
<rect x="263.7" y="419.7" width="3.0" height="1.5" fill="#7a0c0c"/>
<rect x="266.6" y="419.7" width="3.0" height="1.1" fill="#7a0c0c"/>
<rect x="269.4" y="419.7" width="3.0" height="0.9" fill="#7a0c0c"/>
<rect x="272.3" y="419.7" width="3.0" height="0.8" fill="#7a0c0c"/>
<rect x="275.3" y="419.7" width="3.0" height="0.9" fill="#7a0c0c"/>
<rect x="278.4" y="419.7" width="3.0" height="1.6" fill="#7a0c0c"/>
<rect x="281.4" y="419.7" width="3.0" height="2.2" fill="#7a0c0c"/>
<rect x="284.5" y="419.7" width="3.0" height="2.7" fill="#7a0c0c"/>
<rect x="287.5" y="419.7" width="3.0" height="2.8" fill="#7a0c0c"/>
<rect x="290.6" y="419.7" width="3.0" height="2.6" fill="#7a0c0c"/>
<rect x="293.6" y="419.7" width="3.0" height="2.5" fill="#7a0c0c"/>
<rect x="296.6" y="419.7" width="3.0" height="2.3" fill="#7a0c0c"/>
<rect x="299.7" y="419.7" width="3.0" height="1.9" fill="#7a0c0c"/>
<rect x="302.7" y="419.7" width="3.0" height="1.4" fill="#7a0c0c"/>
<rect x="305.8" y="419.7" width="3.0" height="1.0" fill="#7a0c0c"/>
<rect x="308.8" y="419.7" width="3.0" height="0.8" fill="#7a0c0c"/>
<rect x="318.0" y="418.9" width="3.0" height="0.8" fill="#0c7a0c"/>
<rect x="321.0" y="418.8" width="3.0" height="0.9" fill="#0c7a0c"/>
<rect x="324.0" y="418.6" width="3.0" height="1.1" fill="#0c7a0c"/>
<rect x="327.1" y="418.4" width="3.0" height="1.3" fill="#0c7a0c"/>
<rect x="330.1" y="418.5" width="3.0" height="1.2" fill="#0c7a0c"/>
<rect x="333.2" y="418.9" width="3.0" height="0.8" fill="#0c7a0c"/>
<rect x="336.2" y="418.9" width="3.0" height="0.8" fill="#0c7a0c"/>
<rect x="348.4" y="418.9" width="3.0" height="0.8" fill="#0c7a0c"/>
<rect x="351.4" y="418.9" width="3.0" height="0.8" fill="#0c7a0c"/>
<rect x="354.5" y="418.9" width="3.0" height="0.8" fill="#0c7a0c"/>
<rect x="357.5" y="418.9" width="3.0" height="0.8" fill="#0c7a0c"/>
<rect x="360.6" y="418.9" width="3.0" height="0.8" fill="#0c7a0c"/>
<rect x="385.1" y="418.9" width="3.0" height="0.8" fill="#0c7a0c"/>
<rect x="388.1" y="418.9" width="3.0" height="0.8" fill="#0c7a0c"/>
<rect x="391.2" y="418.7" width="3.0" height="1.0" fill="#0c7a0c"/>
<rect x="394.2" y="418.5" width="3.0" height="1.2" fill="#0c7a0c"/>
<rect x="397.3" y="418.3" width="3.0" height="1.4" fill="#0c7a0c"/>
<rect x="400.4" y="418.3" width="3.0" height="1.4" fill="#0c7a0c"/>
<rect x="403.4" y="418.4" width="3.0" height="1.3" fill="#0c7a0c"/>
<rect x="406.5" y="418.5" width="3.0" height="1.2" fill="#0c7a0c"/>
<rect x="409.6" y="418.8" width="3.0" height="0.9" fill="#0c7a0c"/>
<rect x="412.6" y="418.9" width="3.0" height="0.8" fill="#0c7a0c"/>
<rect x="415.7" y="418.9" width="3.0" height="0.8" fill="#0c7a0c"/>
<rect x="418.8" y="418.9" width="3.0" height="0.8" fill="#0c7a0c"/>
<rect x="421.8" y="418.7" width="3.0" height="1.0" fill="#0c7a0c"/>
<rect x="424.9" y="417.9" width="3.0" height="1.8" fill="#0c7a0c"/>
<rect x="428.0" y="417.4" width="3.0" height="2.3" fill="#0c7a0c"/>
<rect x="431.0" y="417.2" width="3.0" height="2.5" fill="#0c7a0c"/>
<rect x="434.1" y="417.1" width="3.0" height="2.6" fill="#0c7a0c"/>
<rect x="437.1" y="417.3" width="3.0" height="2.4" fill="#0c7a0c"/>
<rect x="440.2" y="417.6" width="3.0" height="2.1" fill="#0c7a0c"/>
<rect x="443.3" y="417.4" width="3.0" height="2.3" fill="#0c7a0c"/>
<rect x="446.3" y="417.8" width="3.0" height="1.9" fill="#0c7a0c"/>
<rect x="449.4" y="418.1" width="3.0" height="1.6" fill="#0c7a0c"/>
<rect x="452.5" y="418.3" width="3.0" height="1.4" fill="#0c7a0c"/>
<rect x="455.5" y="418.3" width="3.0" height="1.4" fill="#0c7a0c"/>
<rect x="458.6" y="418.6" width="3.0" height="1.1" fill="#0c7a0c"/>
<rect x="461.7" y="418.9" width="3.0" height="0.8" fill="#0c7a0c"/>
<rect x="464.7" y="418.9" width="3.0" height="0.8" fill="#0c7a0c"/>
<rect x="467.8" y="418.9" width="3.0" height="0.8" fill="#0c7a0c"/>
<rect x="470.8" y="417.8" width="3.0" height="1.9" fill="#0c7a0c"/>
<rect x="473.9" y="417.3" width="3.0" height="2.4" fill="#0c7a0c"/>
<rect x="476.9" y="417.8" width="3.0" height="1.9" fill="#0c7a0c"/>
<rect x="480.0" y="417.8" width="3.0" height="1.9" fill="#0c7a0c"/>
<rect x="483.1" y="418.1" width="3.0" height="1.6" fill="#0c7a0c"/>
<rect x="486.1" y="418.5" width="3.0" height="1.2" fill="#0c7a0c"/>
<rect x="489.2" y="418.6" width="3.0" height="1.1" fill="#0c7a0c"/>
<rect x="492.2" y="418.2" width="3.0" height="1.5" fill="#0c7a0c"/>
<rect x="495.3" y="418.2" width="3.0" height="1.5" fill="#0c7a0c"/>
<rect x="498.3" y="418.6" width="3.0" height="1.1" fill="#0c7a0c"/>
<rect x="501.4" y="418.9" width="3.0" height="0.8" fill="#0c7a0c"/>
<rect x="504.5" y="418.9" width="3.0" height="0.8" fill="#0c7a0c"/>
<rect x="507.5" y="418.1" width="3.0" height="1.6" fill="#0c7a0c"/>
<rect x="510.6" y="417.7" width="3.0" height="2.0" fill="#0c7a0c"/>
<rect x="513.6" y="417.7" width="3.0" height="2.0" fill="#0c7a0c"/>
<rect x="516.7" y="417.1" width="3.0" height="2.6" fill="#0c7a0c"/>
<rect x="519.7" y="417.0" width="3.0" height="2.7" fill="#0c7a0c"/>
<rect x="522.8" y="417.5" width="3.0" height="2.2" fill="#0c7a0c"/>
<rect x="525.8" y="418.1" width="3.0" height="1.6" fill="#0c7a0c"/>
<rect x="528.9" y="418.0" width="3.0" height="1.7" fill="#0c7a0c"/>
<rect x="532.0" y="418.6" width="3.0" height="1.1" fill="#0c7a0c"/>
<rect x="535.0" y="419.7" width="3.0" height="0.9" fill="#7a0c0c"/>
<rect x="538.1" y="419.7" width="3.0" height="2.2" fill="#7a0c0c"/>
<rect x="541.1" y="419.7" width="3.0" height="2.6" fill="#7a0c0c"/>
<rect x="544.2" y="419.7" width="3.0" height="2.4" fill="#7a0c0c"/>
<rect x="547.2" y="419.7" width="3.0" height="1.0" fill="#7a0c0c"/>
<rect x="550.3" y="419.7" width="3.0" height="1.0" fill="#7a0c0c"/>
<rect x="553.4" y="419.7" width="3.0" height="0.8" fill="#7a0c0c"/>
<rect x="556.4" y="419.7" width="3.0" height="0.8" fill="#7a0c0c"/>
<rect x="559.5" y="419.7" width="3.0" height="1.0" fill="#7a0c0c"/>
<rect x="562.6" y="419.7" width="3.0" height="1.1" fill="#7a0c0c"/>
<rect x="565.6" y="419.7" width="3.0" height="1.0" fill="#7a0c0c"/>
<rect x="568.7" y="419.7" width="3.0" height="1.2" fill="#7a0c0c"/>
<rect x="571.8" y="419.7" width="3.0" height="2.1" fill="#7a0c0c"/>
<rect x="574.8" y="419.7" width="3.0" height="2.5" fill="#7a0c0c"/>
<rect x="577.9" y="419.7" width="3.0" height="3.0" fill="#7a0c0c"/>
<rect x="580.9" y="419.7" width="3.0" height="3.4" fill="#7a0c0c"/>
<rect x="584.0" y="419.7" width="3.0" height="2.9" fill="#7a0c0c"/>
<rect x="587.1" y="419.7" width="3.0" height="2.2" fill="#7a0c0c"/>
<rect x="590.1" y="419.7" width="3.0" height="1.7" fill="#7a0c0c"/>
<rect x="593.2" y="419.7" width="3.0" height="1.2" fill="#7a0c0c"/>
<rect x="596.3" y="418.9" width="3.0" height="0.8" fill="#0c7a0c"/>
<rect x="599.3" y="416.5" width="3.0" height="3.2" fill="#0c7a0c"/>
<rect x="602.4" y="415.0" width="3.0" height="4.7" fill="#0c7a0c"/>
<rect x="605.5" y="413.7" width="3.0" height="6.0" fill="#0c7a0c"/>
<rect x="608.5" y="413.7" width="3.0" height="6.0" fill="#0c7a0c"/>
<rect x="611.6" y="414.8" width="3.0" height="4.9" fill="#0c7a0c"/>
<rect x="614.7" y="414.9" width="3.0" height="4.8" fill="#0c7a0c"/>
<rect x="617.7" y="415.9" width="3.0" height="3.8" fill="#0c7a0c"/>
<rect x="620.8" y="416.4" width="3.0" height="3.3" fill="#0c7a0c"/>
<rect x="623.8" y="416.2" width="3.0" height="3.5" fill="#0c7a0c"/>
<rect x="626.9" y="414.9" width="3.0" height="4.8" fill="#0c7a0c"/>
<rect x="630.0" y="414.7" width="3.0" height="5.0" fill="#0c7a0c"/>
<rect x="633.0" y="414.4" width="3.0" height="5.3" fill="#0c7a0c"/>
<rect x="636.1" y="414.3" width="3.0" height="5.4" fill="#0c7a0c"/>
<rect x="639.2" y="413.5" width="3.0" height="6.2" fill="#0c7a0c"/>
<rect x="642.2" y="413.4" width="3.0" height="6.3" fill="#0c7a0c"/>
<rect x="645.3" y="413.6" width="3.0" height="6.1" fill="#0c7a0c"/>
<rect x="648.4" y="411.8" width="3.0" height="7.9" fill="#0c7a0c"/>
<rect x="651.4" y="410.7" width="3.0" height="9.0" fill="#0c7a0c"/>
<rect x="654.5" y="411.6" width="3.0" height="8.1" fill="#0c7a0c"/>
<rect x="657.5" y="411.2" width="3.0" height="8.5" fill="#0c7a0c"/>
<rect x="660.6" y="409.2" width="3.0" height="10.5" fill="#0c7a0c"/>
<rect x="663.6" y="406.6" width="3.0" height="13.1" fill="#0c7a0c"/>
<rect x="666.7" y="404.9" width="3.0" height="14.8" fill="#0c7a0c"/>
<rect x="669.7" y="405.5" width="3.0" height="14.2" fill="#0c7a0c"/>
<rect x="672.8" y="408.8" width="3.0" height="10.9" fill="#0c7a0c"/>
<rect x="675.8" y="414.4" width="3.0" height="5.3" fill="#0c7a0c"/>
<rect x="681.9" y="419.7" width="3.0" height="1.2" fill="#7a0c0c"/>
<rect x="685.0" y="419.7" width="3.0" height="0.8" fill="#7a0c0c"/>
<rect x="688.0" y="419.7" width="3.0" height="3.0" fill="#7a0c0c"/>
<rect x="691.1" y="419.7" width="3.0" height="5.4" fill="#7a0c0c"/>
<rect x="694.1" y="419.7" width="3.0" height="7.2" fill="#7a0c0c"/>
<rect x="697.2" y="419.7" width="3.0" height="7.7" fill="#7a0c0c"/>
<rect x="700.2" y="419.7" width="3.0" height="8.8" fill="#7a0c0c"/>
<rect x="703.3" y="419.7" width="3.0" height="9.7" fill="#7a0c0c"/>
<rect x="706.3" y="419.7" width="3.0" height="14.3" fill="#7a0c0c"/>
<rect x="709.4" y="419.7" width="3.0" height="14.9" fill="#7a0c0c"/>
<rect x="712.4" y="419.7" width="3.0" height="15.6" fill="#7a0c0c"/>
<rect x="715.5" y="419.7" width="3.0" height="15.4" fill="#7a0c0c"/>
<rect x="718.5" y="419.7" width="3.0" height="14.7" fill="#7a0c0c"/>
<rect x="721.6" y="419.7" width="3.0" height="13.5" fill="#7a0c0c"/>
<rect x="724.6" y="419.7" width="3.0" height="14.1" fill="#7a0c0c"/>
<rect x="727.7" y="419.7" width="3.0" height="11.2" fill="#7a0c0c"/>
<rect x="730.7" y="419.7" width="3.0" height="8.2" fill="#7a0c0c"/>
<rect x="733.8" y="419.7" width="3.0" height="6.0" fill="#7a0c0c"/>
<rect x="736.8" y="419.7" width="3.0" height="5.5" fill="#7a0c0c"/>
<rect x="739.9" y="419.7" width="3.0" height="4.6" fill="#7a0c0c"/>
<rect x="742.9" y="419.7" width="3.0" height="2.1" fill="#7a0c0c"/>
<rect x="746.0" y="418.3" width="3.0" height="1.4" fill="#0c7a0c"/>
<rect x="749.0" y="416.9" width="3.0" height="2.8" fill="#0c7a0c"/>
<rect x="752.1" y="415.1" width="3.0" height="4.6" fill="#0c7a0c"/>
<rect x="755.1" y="413.4" width="3.0" height="6.3" fill="#0c7a0c"/>
<rect x="758.2" y="413.2" width="3.0" height="6.5" fill="#0c7a0c"/>
<rect x="761.2" y="406.8" width="3.0" height="12.9" fill="#0c7a0c"/>
<rect x="764.3" y="403.6" width="3.0" height="16.1" fill="#0c7a0c"/>
<rect x="767.4" y="404.1" width="3.0" height="15.6" fill="#0c7a0c"/>
<rect x="770.4" y="402.7" width="3.0" height="17.0" fill="#0c7a0c"/>
<rect x="773.5" y="403.5" width="3.0" height="16.2" fill="#0c7a0c"/>
<rect x="776.5" y="405.3" width="3.0" height="14.4" fill="#0c7a0c"/>
<rect x="779.6" y="406.2" width="3.0" height="13.5" fill="#0c7a0c"/>
<rect x="782.6" y="408.5" width="3.0" height="11.2" fill="#0c7a0c"/>
<rect x="785.6" y="409.9" width="3.0" height="9.8" fill="#0c7a0c"/>
<rect x="788.7" y="409.0" width="3.0" height="10.7" fill="#0c7a0c"/>
<rect x="791.8" y="410.0" width="3.0" height="9.7" fill="#0c7a0c"/>
<rect x="794.8" y="407.7" width="3.0" height="12.0" fill="#0c7a0c"/>
<rect x="797.9" y="407.4" width="3.0" height="12.3" fill="#0c7a0c"/>
<rect x="800.9" y="407.0" width="3.0" height="12.7" fill="#0c7a0c"/>
<rect x="804.0" y="410.9" width="3.0" height="8.8" fill="#0c7a0c"/>
<rect x="807.0" y="418.9" width="3.0" height="0.8" fill="#0c7a0c"/>
<rect x="810.1" y="419.7" width="3.0" height="4.3" fill="#7a0c0c"/>
<rect x="813.1" y="419.7" width="3.0" height="10.0" fill="#7a0c0c"/>
<rect x="816.2" y="419.7" width="3.0" height="14.3" fill="#7a0c0c"/>
<rect x="819.2" y="419.7" width="3.0" height="16.9" fill="#7a0c0c"/>
<rect x="822.3" y="419.7" width="3.0" height="18.9" fill="#7a0c0c"/>
<rect x="825.3" y="419.7" width="3.0" height="15.8" fill="#7a0c0c"/>
<rect x="828.4" y="419.7" width="3.0" height="14.4" fill="#7a0c0c"/>
<rect x="831.4" y="419.7" width="3.0" height="11.4" fill="#7a0c0c"/>
<rect x="834.5" y="419.7" width="3.0" height="11.0" fill="#7a0c0c"/>
<rect x="837.6" y="419.7" width="3.0" height="10.1" fill="#7a0c0c"/>
<rect x="840.6" y="419.7" width="3.0" height="9.2" fill="#7a0c0c"/>
<rect x="843.7" y="419.7" width="3.0" height="6.6" fill="#7a0c0c"/>
<rect x="846.8" y="419.7" width="3.0" height="3.7" fill="#7a0c0c"/>
<rect x="849.8" y="418.9" width="3.0" height="0.8" fill="#0c7a0c"/>
<rect x="852.9" y="416.1" width="3.0" height="3.6" fill="#0c7a0c"/>
<rect x="855.9" y="412.9" width="3.0" height="6.8" fill="#0c7a0c"/>
<rect x="859.0" y="411.9" width="3.0" height="7.8" fill="#0c7a0c"/>
<rect x="862.1" y="408.6" width="3.0" height="11.1" fill="#0c7a0c"/>
<rect x="865.1" y="409.3" width="3.0" height="10.4" fill="#0c7a0c"/>
<rect x="868.2" y="413.5" width="3.0" height="6.2" fill="#0c7a0c"/>
<rect x="871.3" y="415.8" width="3.0" height="3.9" fill="#0c7a0c"/>
<rect x="874.3" y="416.0" width="3.0" height="3.7" fill="#0c7a0c"/>
<rect x="877.4" y="417.7" width="3.0" height="2.0" fill="#0c7a0c"/>
<rect x="880.5" y="418.9" width="3.0" height="0.8" fill="#0c7a0c"/>
<rect x="883.5" y="419.7" width="3.0" height="0.8" fill="#7a0c0c"/>
<rect x="886.6" y="419.7" width="3.0" height="2.0" fill="#7a0c0c"/>
<rect x="889.7" y="419.7" width="3.0" height="6.3" fill="#7a0c0c"/>
<rect x="892.7" y="419.7" width="3.0" height="8.7" fill="#7a0c0c"/>
<rect x="895.8" y="419.7" width="3.0" height="11.9" fill="#7a0c0c"/>
<rect x="898.8" y="419.7" width="3.0" height="14.5" fill="#7a0c0c"/>
<rect x="901.9" y="419.7" width="3.0" height="12.3" fill="#7a0c0c"/>
<rect x="905.0" y="419.7" width="3.0" height="9.8" fill="#7a0c0c"/>
<rect x="908.0" y="419.7" width="3.0" height="8.0" fill="#7a0c0c"/>
<rect x="911.1" y="419.7" width="3.0" height="4.7" fill="#7a0c0c"/>
<rect x="914.2" y="419.7" width="3.0" height="1.7" fill="#7a0c0c"/>
<rect x="917.2" y="419.7" width="3.0" height="0.8" fill="#7a0c0c"/>
<rect x="920.3" y="418.9" width="3.0" height="0.8" fill="#0c7a0c"/>
<rect x="923.4" y="418.8" width="3.0" height="0.9" fill="#0c7a0c"/>
<rect x="926.4" y="418.9" width="3.0" height="0.8" fill="#0c7a0c"/>
<rect x="929.5" y="418.9" width="3.0" height="0.8" fill="#0c7a0c"/>
<rect x="935.6" y="419.7" width="3.0" height="2.9" fill="#7a0c0c"/>
<rect x="938.6" y="419.7" width="3.0" height="2.9" fill="#7a0c0c"/>
<rect x="941.7" y="419.7" width="3.0" height="2.2" fill="#7a0c0c"/>
<polyline points="1.4,416.9 4.5,416.9 7.5,416.8 10.6,416.6 13.6,416.7 16.7,416.7 19.7,416.7 22.8,416.7 25.9,416.7 28.9,416.6 32.0,417.3 35.0,417.6 38.1,417.9 41.1,418.3 44.2,418.5 47.0,418.6 49.9,418.7 52.7,418.9 55.6,419.2 58.4,419.4 61.3,419.6 64.1,419.3 67.0,419.1 69.8,419.4 72.6,419.6 75.5,419.9 78.3,420.3 81.2,420.5 84.0,420.6 86.9,420.7 89.7,420.6 92.8,420.7 95.9,420.8 99.0,420.8 102.0,420.9 105.1,420.6 108.2,420.5 111.3,420.2 114.4,420.1 117.5,420.0 120.5,420.0 123.6,420.0 126.7,420.0 129.8,419.9 132.9,420.0 136.0,420.1 139.0,420.1 142.1,420.2 145.2,420.1 148.3,420.1 151.4,419.9 154.5,419.6 157.5,419.2 160.6,419.0 163.7,418.7 166.8,418.2 169.9,416.6 173.0,415.5 176.0,414.5 179.1,413.8 182.2,413.0 185.3,412.0 188.2,412.1 191.0,412.1 193.9,412.2 196.7,411.7 199.6,411.4 202.4,411.5 205.3,411.5 208.1,411.6 211.0,411.6 213.8,412.2 216.7,412.6 219.5,412.8 222.4,413.0 225.2,413.1 228.1,413.2 230.9,413.0 233.8,413.3 236.6,413.8 239.5,414.1 242.3,414.8 245.2,415.2 248.0,415.6 250.9,415.9 253.7,416.6 256.6,417.1 259.4,417.6 262.3,417.8 265.1,418.1 268.0,418.0 270.8,418.1 273.7,417.8 276.7,418.4 279.8,419.5 282.8,420.7 285.9,421.8 288.9,422.6 292.0,423.1 295.0,423.7 298.0,424.0 301.1,424.0 304.1,424.0 307.2,423.8 310.2,423.8 313.3,423.3 316.3,422.8 319.4,422.2 322.4,421.7 325.4,421.3 328.5,420.8 331.5,420.5 334.6,420.8 337.6,421.0 340.7,421.3 343.7,421.1 346.7,421.0 349.8,420.8 352.8,420.7 355.9,420.6 358.9,420.4 362.0,420.2 365.0,420.3 368.1,420.4 371.1,420.5 374.2,420.5 377.3,420.3 380.3,420.3 383.4,420.3 386.5,420.0 389.5,419.6 392.6,419.0 395.6,418.5 398.7,417.9 401.8,417.6 404.8,417.4 407.9,417.1 411.0,417.2 414.0,417.2 417.1,417.1 420.2,416.8 423.2,416.3 426.3,415.1 429.4,414.0 432.4,413.2 435.5,412.5 438.5,412.1 441.6,411.8 444.7,411.1 447.7,411.0 450.8,410.8 453.9,410.7 456.9,410.4 460.0,410.3 463.1,410.6 466.1,410.4 469.2,410.2 472.2,408.6 475.3,407.5 478.3,407.6 481.4,407.0 484.5,406.9 487.5,407.0 490.6,406.8 493.6,406.1 496.7,405.7 499.7,405.9 502.8,406.2 505.9,405.8 508.9,404.6 512.0,403.7 515.0,403.2 518.1,402.0 521.1,401.2 524.2,401.2 527.2,401.4 530.3,400.9 533.4,401.2 536.4,403.4 539.5,405.3 542.5,406.3 545.6,406.7 548.6,405.6 551.7,405.8 554.8,405.7 557.8,405.5 560.9,406.4 564.0,406.7 567.0,406.8 570.1,407.3 573.2,408.8 576.2,409.8 579.3,411.0 582.3,412.3 585.4,412.5 588.5,412.4 591.5,412.3 594.6,412.1 597.7,409.9 600.7,406.7 603.8,404.0 606.9,401.3 609.9,399.8 613.0,399.6 616.1,398.5 619.1,398.6 622.2,398.3 625.2,397.2 628.3,394.7 631.4,393.3 634.4,391.6 637.5,390.2 640.6,387.8 643.6,386.1 646.7,384.8 649.8,381.0 652.8,377.7 655.9,376.6 658.9,374.0 662.0,369.4 665.0,363.5 668.1,358.2 671.1,355.1 674.2,355.8 677.2,360.0 680.3,365.6 683.3,366.9 686.4,366.6 689.4,369.6 692.5,373.3 695.5,376.9 698.6,379.4 701.6,382.6 704.7,386.0 707.7,394.1 710.8,398.4 713.8,403.0 716.9,406.7 719.9,409.7 723.0,411.9 726.0,416.0 729.1,415.9 732.1,415.0 735.2,414.2 738.2,415.1 741.3,415.3 744.3,413.4 747.4,409.5 750.4,407.4 753.5,404.4 756.5,401.2 759.6,399.3 762.6,389.8 765.7,382.5 768.8,379.1 771.8,373.4 774.9,370.2 777.9,368.4 781.0,365.9 784.0,365.5 787.0,364.3 790.1,360.8 793.1,359.4 796.2,354.1 799.2,350.7 802.3,347.1 805.4,348.9 808.4,356.8 811.5,362.8 814.5,371.0 817.6,378.9 820.6,385.7 823.7,392.5 826.7,393.3 829.8,395.5 832.8,395.3 835.9,397.7 839.0,399.3 842.0,400.7 845.1,399.7 848.2,397.7 851.2,393.5 854.3,389.5 857.3,384.5 860.4,381.7 863.5,375.5 866.5,373.6 869.6,376.3 872.7,377.5 875.7,376.8 878.8,378.1 881.9,379.1 884.9,380.3 888.0,382.5 891.1,388.3 894.1,392.9 897.2,399.1 900.2,405.3 903.3,406.2 906.4,406.1 909.4,406.3 912.5,404.3 915.6,401.6 918.6,400.4 921.7,399.3 924.8,398.8 927.8,398.9 930.9,398.5 933.9,399.6 937.0,403.0 940.0,403.8 943.1,403.6 946.1,401.4" fill="none" stroke="#ff4040" stroke-width="1"/>
<polyline points="1.4,416.6 4.5,416.7 7.5,416.7 10.6,416.7 13.6,416.7 16.7,416.7 19.7,416.7 22.8,416.7 25.9,416.7 28.9,416.7 32.0,416.8 35.0,417.0 38.1,417.2 41.1,417.4 44.2,417.6 47.0,417.8 49.9,418.0 52.7,418.2 55.6,418.4 58.4,418.6 61.3,418.8 64.1,418.9 67.0,418.9 69.8,419.0 72.6,419.1 75.5,419.3 78.3,419.5 81.2,419.7 84.0,419.9 86.9,420.0 89.7,420.1 92.8,420.3 95.9,420.4 99.0,420.5 102.0,420.5 105.1,420.6 108.2,420.5 111.3,420.5 114.4,420.4 117.5,420.3 120.5,420.3 123.6,420.2 126.7,420.2 129.8,420.1 132.9,420.1 136.0,420.1 139.0,420.1 142.1,420.1 145.2,420.1 148.3,420.1 151.4,420.1 154.5,420.0 157.5,419.8 160.6,419.7 163.7,419.5 166.8,419.2 169.9,418.7 173.0,418.1 176.0,417.4 179.1,416.6 182.2,415.9 185.3,415.1 188.2,414.5 191.0,414.0 193.9,413.7 196.7,413.3 199.6,412.9 202.4,412.6 205.3,412.4 208.1,412.2 211.0,412.1 213.8,412.1 216.7,412.2 219.5,412.4 222.4,412.5 225.2,412.6 228.1,412.7 230.9,412.8 233.8,412.9 236.6,413.1 239.5,413.3 242.3,413.6 245.2,413.9 248.0,414.3 250.9,414.6 253.7,415.0 256.6,415.4 259.4,415.8 262.3,416.2 265.1,416.6 268.0,416.9 270.8,417.1 273.7,417.3 276.7,417.5 279.8,417.9 282.8,418.4 285.9,419.1 288.9,419.8 292.0,420.5 295.0,421.1 298.0,421.7 301.1,422.1 304.1,422.5 307.2,422.8 310.2,423.0 313.3,423.0 316.3,423.0 319.4,422.8 322.4,422.6 325.4,422.3 328.5,422.0 331.5,421.7 334.6,421.5 337.6,421.4 340.7,421.4 343.7,421.4 346.7,421.3 349.8,421.2 352.8,421.1 355.9,421.0 358.9,420.9 362.0,420.7 365.0,420.7 368.1,420.6 371.1,420.6 374.2,420.6 377.3,420.5 380.3,420.5 383.4,420.4 386.5,420.4 389.5,420.2 392.6,420.0 395.6,419.7 398.7,419.3 401.8,419.0 404.8,418.6 407.9,418.3 411.0,418.1 414.0,417.9 417.1,417.8 420.2,417.6 423.2,417.3 426.3,416.9 429.4,416.3 432.4,415.7 435.5,415.0 438.5,414.4 441.6,413.9 444.7,413.3 447.7,412.9 450.8,412.5 453.9,412.1 456.9,411.8 460.0,411.5 463.1,411.3 466.1,411.1 469.2,411.0 472.2,410.5 475.3,409.9 478.3,409.4 481.4,408.9 484.5,408.5 487.5,408.2 490.6,408.0 493.6,407.6 496.7,407.2 499.7,407.0 502.8,406.8 505.9,406.6 508.9,406.2 512.0,405.7 515.0,405.2 518.1,404.6 521.1,403.9 524.2,403.4 527.2,403.0 530.3,402.5 533.4,402.3 536.4,402.5 539.5,403.0 542.5,403.7 545.6,404.3 548.6,404.6 551.7,404.8 554.8,405.0 557.8,405.1 560.9,405.4 564.0,405.6 567.0,405.9 570.1,406.2 573.2,406.7 576.2,407.3 579.3,408.0 582.3,408.9 585.4,409.6 588.5,410.2 591.5,410.6 594.6,410.9 597.7,410.7 600.7,409.9 603.8,408.7 606.9,407.2 609.9,405.8 613.0,404.5 616.1,403.3 619.1,402.4 622.2,401.6 625.2,400.7 628.3,399.5 631.4,398.2 634.4,396.9 637.5,395.6 640.6,394.0 643.6,392.4 646.7,390.9 649.8,388.9 652.8,386.7 655.9,384.7 658.9,382.5 662.0,379.9 665.0,376.6 668.1,372.9 671.1,369.4 674.2,366.7 677.2,365.3 680.3,365.4 683.3,365.7 686.4,365.8 689.4,366.6 692.5,367.9 695.5,369.7 698.6,371.7 701.6,373.9 704.7,376.3 707.7,379.8 710.8,383.6 713.8,387.5 716.9,391.3 719.9,395.0 723.0,398.3 726.0,401.9 729.1,404.7 732.1,406.7 735.2,408.2 738.2,409.6 741.3,410.7 744.3,411.3 747.4,410.9 750.4,410.2 753.5,409.1 756.5,407.5 759.6,405.8 762.6,402.6 765.7,398.6 768.8,394.7 771.8,390.4 774.9,386.4 777.9,382.8 781.0,379.4 784.0,376.6 787.0,374.2 790.1,371.5 793.1,369.1 796.2,366.1 799.2,363.0 802.3,359.8 805.4,357.6 808.4,357.5 811.5,358.5 814.5,361.0 817.6,364.6 820.6,368.8 823.7,373.6 826.7,377.5 829.8,381.1 832.8,384.0 835.9,386.7 839.0,389.2 842.0,391.5 845.1,393.1 848.2,394.1 851.2,394.0 854.3,393.1 857.3,391.4 860.4,389.4 863.5,386.6 866.5,384.0 869.6,382.5 872.7,381.5 875.7,380.6 878.8,380.1 881.9,379.9 884.9,380.0 888.0,380.5 891.1,382.0 894.1,384.2 897.2,387.2 900.2,390.8 903.3,393.9 906.4,396.3 909.4,398.3 912.5,399.5 915.6,399.9 918.6,400.0 921.7,399.9 924.8,399.7 927.8,399.5 930.9,399.3 933.9,399.4 937.0,400.1 940.0,400.8 943.1,401.4 946.1,401.4" fill="none" stroke="#4040ff" stroke-width="1"/>
</svg>
<div class="ax" style="top:2.7px">150.000,00</div><div class="ax" style="top:21.6px">120.000,00</div><div class="ax" style="top:45.6px">90.000,00</div><div class="ax" style="top:66.5px">70.000,00</div><div class="ax" style="top:94.3px">50.000,00</div><div class="ax" style="top:113.3px">40.000,00</div><div class="ax" style="top:137.7px">30.000,00</div><div class="ax" style="top:171.6px">20.000,00</div><div class="ax" style="top:229.9px">10.000,00</div><div class="ax" style="top:288.2px">5.000,00</div><div class="ax" style="top:349.9px">4.500,00</div><div class="ax" style="top:370.4px">3.000,00</div><div class="ax" style="top:391.5px">1.500,00</div><div class="ax" style="top:412.1px">0,00</div><div class="dt" style="left:81.7px;top:331px">01.07.</div><div class="dt" style="left:177.3px;top:331px">01.08.</div><div class="dt" style="left:265.7px;top:331px">01.09.</div><div class="dt" style="left:357.0px;top:331px">01.10.</div><div class="dt" style="left:452.0px;top:331px">01.11.</div><div class="dt" style="left:543.7px;top:331px">01.12.</div><div class="dt" style="left:638.7px;top:331px">2021</div><div class="dt" style="left:733.3px;top:331px">01.02.</div><div class="dt" style="left:818.7px;top:331px">01.03.</div><div class="dt" style="left:913.7px;top:331px">01.04.</div>
<div class="t" style="top:7px;font-size:8.95px">Bitcoin (BTC/USD) () ()</div>
<div class="t" style="top:17.5px">1 Tag</div>
<div class="t" style="top:29.5px;font-size:8.6px">Aktive Konfiguration: 12 mon mit BB</div>
<div class="t" style="top:47.5px;color:#777;font-size:8.5px">Bollinger Band: 20</div>
<div class="t" style="top:393.5px;color:#333;font-size:8.4px">MACD: 12 | 26 | 9</div>
<div id="note"></div>
<div class="nt" style="top:160.1px">ich denke mal das ist keine SKS. aber der kurs läuft in ein spitzes</div>
<div class="nt" style="top:166.2px">dreieck hinenin. dann wird sich entscheiden hot oder top</div>
<div class="bx" style="top:73.8px;height:10.6px;background:#0b6b0b;border:1px solid #0a2010;color:#e8f8e8;"><span style="top:-1.3px">60.680,00</span></div>
<div class="bx" style="top:80.9px;height:10.6px;background:#ecec00;border:1px solid #333300;color:#5a5000;text-shadow:0 0 1px #fff;"><span style="top:-1.3px">60.665,50</span></div>
<div class="bx" style="top:87.9px;height:10.4px;background:#e6001a;border:1px solid #400008;color:#fff;"><span style="top:-1.0px">60.651,00</span></div>
<div class="bx" style="top:395px;height:11.6px;background:#ffff00;border:1px solid #3030e0;border-bottom-color:#b01890;color:#000;line-height:10.2px;font-size:9.5px"><span style="top:-0.3px">1.319,67</span></div>
<div class="bx" style="left:971.2px;top:416px;height:8.4px;background:#ffff00;border:1px solid #f03030;color:#000;font-size:6.2px;line-height:6.6px;padding-left:0.6px;text-shadow:0 0 0.5px #000;">-23,81943</div>
</div>
</body></html>
